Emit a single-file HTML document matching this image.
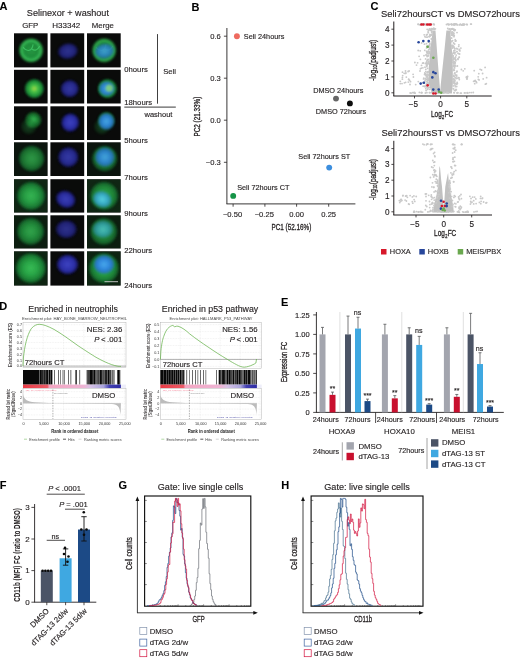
<!DOCTYPE html>
<html lang="en">
<head>
<meta charset="utf-8">
<title>Figure: Selinexor washout and dTAG-13 degradation</title>
<style>
html,body{margin:0;padding:0;background:#fff;}
body{width:520px;height:658px;overflow:hidden;}
svg{display:block;font-family:'Liberation Sans', sans-serif;}
svg text{font-family:'Liberation Sans', sans-serif;}
</style>
</head>
<body>
<svg width="520" height="658" viewBox="0 0 520 658">
<defs>
<filter id="b0" x="-10%" y="-10%" width="120%" height="120%"><feGaussianBlur stdDeviation="0.45"/></filter>
<filter id="b1" x="-30%" y="-30%" width="160%" height="160%"><feGaussianBlur stdDeviation="1.3"/></filter>
<radialGradient id="gRing"><stop offset="0" stop-color="#27a547"/><stop offset="0.55" stop-color="#239a40"/><stop offset="0.74" stop-color="#3fd463"/><stop offset="0.86" stop-color="#1d7a33"/><stop offset="1" stop-color="#0b1f0e" stop-opacity="0"/></radialGradient>
<radialGradient id="gHot"><stop offset="0" stop-color="#b9e34a"/><stop offset="0.3" stop-color="#4fd04c"/><stop offset="0.7" stop-color="#1f9a3c"/><stop offset="0.9" stop-color="#14602a"/><stop offset="1" stop-color="#0b1f0e" stop-opacity="0"/></radialGradient>
<radialGradient id="gDim"><stop offset="0" stop-color="#3fd060"/><stop offset="0.5" stop-color="#1e8a38"/><stop offset="0.85" stop-color="#12501f"/><stop offset="1" stop-color="#0b1f0e" stop-opacity="0"/></radialGradient>
<radialGradient id="gFlat"><stop offset="0" stop-color="#3ac55b"/><stop offset="0.4" stop-color="#2cae4b"/><stop offset="0.7" stop-color="#1f8c3a"/><stop offset="0.88" stop-color="#15622b"/><stop offset="1" stop-color="#0b1f0e" stop-opacity="0"/></radialGradient>
<radialGradient id="nBlue"><stop offset="0" stop-color="#474de2"/><stop offset="0.6" stop-color="#3135c2"/><stop offset="0.85" stop-color="#1a1a70"/><stop offset="1" stop-color="#0b0b20" stop-opacity="0"/></radialGradient>
<radialGradient id="nCyan"><stop offset="0" stop-color="#48a8ea"/><stop offset="0.5" stop-color="#2f86dc"/><stop offset="0.8" stop-color="#2470c2" stop-opacity="0.85"/><stop offset="1" stop-color="#1f8f6b" stop-opacity="0"/></radialGradient>
<radialGradient id="nTeal"><stop offset="0" stop-color="#58cfe2"/><stop offset="0.5" stop-color="#3aaecb"/><stop offset="0.8" stop-color="#2b8fae" stop-opacity="0.85"/><stop offset="1" stop-color="#1f8f6b" stop-opacity="0"/></radialGradient>
<linearGradient id="cbar" x1="0" x2="1" y1="0" y2="0"><stop offset="0" stop-color="#e8323c"/><stop offset="0.22" stop-color="#ee5f6a"/><stop offset="0.27" stop-color="#f2a3bd"/><stop offset="0.6" stop-color="#efb6d3"/><stop offset="0.78" stop-color="#d9c4e6"/><stop offset="0.87" stop-color="#9d9ad8"/><stop offset="0.9" stop-color="#3e3bb0"/><stop offset="1" stop-color="#2a2aa6"/></linearGradient>
<clipPath id="clip0_0"><rect x="14.0" y="33.3" width="33.6" height="34.1"/></clipPath><clipPath id="clip0_1"><rect x="50.4" y="33.3" width="33.8" height="34.1"/></clipPath><clipPath id="clip0_2"><rect x="87.0" y="33.3" width="33.7" height="34.1"/></clipPath><clipPath id="clip1_0"><rect x="14.0" y="69.8" width="33.6" height="33.7"/></clipPath><clipPath id="clip1_1"><rect x="50.4" y="69.8" width="33.8" height="33.7"/></clipPath><clipPath id="clip1_2"><rect x="87.0" y="69.8" width="33.7" height="33.7"/></clipPath><clipPath id="clip2_0"><rect x="14.0" y="106.3" width="33.6" height="33.7"/></clipPath><clipPath id="clip2_1"><rect x="50.4" y="106.3" width="33.8" height="33.7"/></clipPath><clipPath id="clip2_2"><rect x="87.0" y="106.3" width="33.7" height="33.7"/></clipPath><clipPath id="clip3_0"><rect x="14.0" y="142.3" width="33.6" height="33.7"/></clipPath><clipPath id="clip3_1"><rect x="50.4" y="142.3" width="33.8" height="33.7"/></clipPath><clipPath id="clip3_2"><rect x="87.0" y="142.3" width="33.7" height="33.7"/></clipPath><clipPath id="clip4_0"><rect x="14.0" y="179.2" width="33.6" height="33.4"/></clipPath><clipPath id="clip4_1"><rect x="50.4" y="179.2" width="33.8" height="33.4"/></clipPath><clipPath id="clip4_2"><rect x="87.0" y="179.2" width="33.7" height="33.4"/></clipPath><clipPath id="clip5_0"><rect x="14.0" y="215.3" width="33.6" height="33.2"/></clipPath><clipPath id="clip5_1"><rect x="50.4" y="215.3" width="33.8" height="33.2"/></clipPath><clipPath id="clip5_2"><rect x="87.0" y="215.3" width="33.7" height="33.2"/></clipPath><clipPath id="clip6_0"><rect x="14.0" y="251.3" width="33.6" height="34.3"/></clipPath><clipPath id="clip6_1"><rect x="50.4" y="251.3" width="33.8" height="34.3"/></clipPath><clipPath id="clip6_2"><rect x="87.0" y="251.3" width="33.7" height="34.3"/></clipPath><linearGradient id="cbar1" x1="0" x2="1" y1="0" y2="0"><stop offset="0" stop-color="#e93a45"/><stop offset="0.249" stop-color="#ec5a66"/><stop offset="0.269" stop-color="#f4a6c2"/><stop offset="0.621" stop-color="#eeb4d4"/><stop offset="0.691" stop-color="#d6c2e6"/><stop offset="0.822" stop-color="#a9a4dc"/><stop offset="0.882" stop-color="#4340b2"/><stop offset="1" stop-color="#2d2ba4"/></linearGradient><linearGradient id="cbar2" x1="0" x2="1" y1="0" y2="0"><stop offset="0" stop-color="#e93a45"/><stop offset="0.239" stop-color="#ec5a66"/><stop offset="0.259" stop-color="#f4a6c2"/><stop offset="0.626" stop-color="#eeb4d4"/><stop offset="0.696" stop-color="#d6c2e6"/><stop offset="0.831" stop-color="#a9a4dc"/><stop offset="0.891" stop-color="#4340b2"/><stop offset="1" stop-color="#2d2ba4"/></linearGradient><clipPath id="clipboxG"><rect x="144.6" y="496.0" width="106.20" height="110.50"/></clipPath><clipPath id="clipboxH"><rect x="311.1" y="496.0" width="111.90" height="110.50"/></clipPath></defs>
<rect width="520" height="658" fill="#ffffff"/>
<g id="panelA">
<text x="-0.40" y="9.84" font-size="11" fill="#000" stroke="#000" stroke-width="0.084" font-weight="bold">A</text>
<text x="67.90" y="15.76" font-size="9.1" fill="#231f20" stroke="#231f20" stroke-width="0.14" text-anchor="middle">Selinexor + washout</text>
<text x="30.20" y="28.19" font-size="7.8" fill="#231f20" stroke="#231f20" stroke-width="0.14" text-anchor="middle">GFP</text>
<text x="66.30" y="28.26" font-size="8.0" fill="#231f20" stroke="#231f20" stroke-width="0.14" text-anchor="middle">H33342</text>
<text x="102.90" y="28.19" font-size="7.8" fill="#231f20" stroke="#231f20" stroke-width="0.14" text-anchor="middle">Merge</text>
<rect x="14.00" y="33.30" width="33.60" height="34.10" fill="#0a0b0a" />
<g clip-path="url(#clip0_0)">
<circle cx="31.10" cy="50.35" r="13.2" fill="url(#gRing)" opacity="0.9" filter="url(#b1)"/>
<path d="M23.1,47.3 C27.1,52.3 32.1,51.3 33.1,44.3 M32.1,49.3 C35.1,51.3 38.1,49.3 39.6,46.3" fill="none" stroke="#4fe07a" stroke-width="1.1" opacity="0.55" filter="url(#b0)"/>
</g>
<rect x="50.40" y="33.30" width="33.80" height="34.10" fill="#0a0b0a" />
<g clip-path="url(#clip0_1)">
<ellipse cx="67.90" cy="51.15" rx="11" ry="8.6" fill="url(#nBlue)" opacity="0.62" filter="url(#b1)" transform="rotate(-10 67.90 51.15)"/>
</g>
<rect x="87.00" y="33.30" width="33.70" height="34.10" fill="#0a0b0a" />
<g clip-path="url(#clip0_2)">
<circle cx="104.15" cy="50.35" r="13.2" fill="url(#gRing)" opacity="0.8280000000000001" filter="url(#b1)"/>
<path d="M96.1,47.3 C100.1,52.3 105.1,51.3 106.1,44.3 M105.1,49.3 C108.1,51.3 111.1,49.3 112.6,46.3" fill="none" stroke="#4fe07a" stroke-width="1.1" opacity="0.3" filter="url(#b0)"/>
<ellipse cx="104.45" cy="51.15" rx="10.6" ry="8.2" fill="url(#nCyan)" opacity="0.80" filter="url(#b1)" transform="rotate(-10 104.45 51.15)"/>
</g>
<rect x="14.00" y="69.80" width="33.60" height="33.70" fill="#0a0b0a" />
<g clip-path="url(#clip1_0)">
<circle cx="34.30" cy="88.65" r="10.2" fill="url(#gHot)" opacity="0.95" filter="url(#b1)"/>
</g>
<rect x="50.40" y="69.80" width="33.80" height="33.70" fill="#0a0b0a" />
<g clip-path="url(#clip1_1)">
<ellipse cx="69.70" cy="88.65" rx="10" ry="9.6" fill="url(#nBlue)" opacity="0.7" filter="url(#b1)" transform="rotate(0 69.70 88.65)"/>
</g>
<rect x="87.00" y="69.80" width="33.70" height="33.70" fill="#0a0b0a" />
<g clip-path="url(#clip1_2)">
<circle cx="107.35" cy="88.65" r="10.2" fill="url(#gHot)" opacity="0.874" filter="url(#b1)"/>
<ellipse cx="106.75" cy="88.65" rx="8.5" ry="8.1" fill="url(#nCyan)" opacity="0.95" filter="url(#b1)"/>
<circle cx="109.35" cy="88.15" r="3.6" fill="#8fdc6a" opacity="0.75" filter="url(#b1)"/>
</g>
<rect x="14.00" y="106.30" width="33.60" height="33.70" fill="#0a0b0a" />
<g clip-path="url(#clip2_0)">
<circle cx="33.30" cy="119.95" r="8.9" fill="url(#gDim)" opacity="0.92" filter="url(#b1)"/>
<circle cx="28.80" cy="126.45" r="8.5" fill="url(#gDim)" opacity="0.3" filter="url(#b1)"/>
</g>
<rect x="50.40" y="106.30" width="33.80" height="33.70" fill="#0a0b0a" />
<g clip-path="url(#clip2_1)">
<ellipse cx="70.20" cy="122.55" rx="9.8" ry="10.2" fill="url(#nBlue)" opacity="0.85" filter="url(#b1)" transform="rotate(20 70.20 122.55)"/>
</g>
<rect x="87.00" y="106.30" width="33.70" height="33.70" fill="#0a0b0a" />
<g clip-path="url(#clip2_2)">
<circle cx="106.35" cy="119.95" r="8.9" fill="url(#gDim)" opacity="0.8464" filter="url(#b1)"/>
<circle cx="101.85" cy="126.45" r="8.5" fill="url(#gDim)" opacity="0.3" filter="url(#b1)"/>
<ellipse cx="106.35" cy="121.45" rx="8.8" ry="9.2" fill="url(#nCyan)" opacity="0.95" filter="url(#b1)"/>
</g>
<rect x="14.00" y="142.30" width="33.60" height="33.70" fill="#0a0b0a" />
<g clip-path="url(#clip3_0)">
<rect x="14.00" y="142.30" width="33.60" height="33.70" fill="#15421d" opacity="0.2"/>
<circle cx="31.60" cy="158.55" r="13.7" fill="url(#gFlat)" opacity="0.74" filter="url(#b1)"/>
</g>
<rect x="50.40" y="142.30" width="33.80" height="33.70" fill="#0a0b0a" />
<g clip-path="url(#clip3_1)">
<ellipse cx="68.30" cy="157.15" rx="11.2" ry="11" fill="url(#nBlue)" opacity="0.72" filter="url(#b1)" transform="rotate(0 68.30 157.15)"/>
</g>
<rect x="87.00" y="142.30" width="33.70" height="33.70" fill="#0a0b0a" />
<g clip-path="url(#clip3_2)">
<rect x="87.00" y="142.30" width="33.70" height="33.70" fill="#15421d" opacity="0.2"/>
<circle cx="104.65" cy="158.55" r="13.7" fill="url(#gFlat)" opacity="0.6808000000000001" filter="url(#b1)"/>
<ellipse cx="104.85" cy="157.15" rx="10.799999999999999" ry="10.6" fill="url(#nCyan)" opacity="0.90" filter="url(#b1)" transform="rotate(0 104.85 157.15)"/>
</g>
<rect x="14.00" y="179.20" width="33.60" height="33.40" fill="#0a0b0a" />
<g clip-path="url(#clip4_0)">
<rect x="14.00" y="179.20" width="33.60" height="33.40" fill="#15421d" opacity="0.5"/>
<circle cx="31.00" cy="195.90" r="15.2" fill="url(#gFlat)" opacity="0.9" filter="url(#b1)"/>
</g>
<rect x="50.40" y="179.20" width="33.80" height="33.40" fill="#0a0b0a" />
<g clip-path="url(#clip4_1)">
<ellipse cx="65.70" cy="199.30" rx="11" ry="9.3" fill="url(#nBlue)" opacity="0.8" filter="url(#b1)" transform="rotate(25 65.70 199.30)"/>
</g>
<rect x="87.00" y="179.20" width="33.70" height="33.40" fill="#0a0b0a" />
<g clip-path="url(#clip4_2)">
<rect x="87.00" y="179.20" width="33.70" height="33.40" fill="#15421d" opacity="0.5"/>
<circle cx="104.05" cy="195.90" r="15.2" fill="url(#gFlat)" opacity="0.8280000000000001" filter="url(#b1)"/>
<ellipse cx="102.25" cy="199.30" rx="10.6" ry="8.9" fill="url(#nTeal)" opacity="0.98" filter="url(#b1)" transform="rotate(25 102.25 199.30)"/>
</g>
<rect x="14.00" y="215.30" width="33.60" height="33.20" fill="#0a0b0a" />
<g clip-path="url(#clip5_0)">
<rect x="14.00" y="215.30" width="33.60" height="33.20" fill="#15421d" opacity="0.35"/>
<circle cx="30.60" cy="231.40" r="14.6" fill="url(#gFlat)" opacity="0.8" filter="url(#b1)"/>
</g>
<rect x="50.40" y="215.30" width="33.80" height="33.20" fill="#0a0b0a" />
<g clip-path="url(#clip5_1)">
<ellipse cx="66.30" cy="229.20" rx="11.6" ry="10" fill="url(#nBlue)" opacity="0.6" filter="url(#b1)" transform="rotate(0 66.30 229.20)"/>
</g>
<rect x="87.00" y="215.30" width="33.70" height="33.20" fill="#0a0b0a" />
<g clip-path="url(#clip5_2)">
<rect x="87.00" y="215.30" width="33.70" height="33.20" fill="#15421d" opacity="0.35"/>
<circle cx="103.65" cy="231.40" r="14.6" fill="url(#gFlat)" opacity="0.7360000000000001" filter="url(#b1)"/>
<ellipse cx="102.85" cy="229.20" rx="11.2" ry="9.6" fill="url(#nTeal)" opacity="0.70" filter="url(#b1)" transform="rotate(0 102.85 229.20)"/>
</g>
<rect x="14.00" y="251.30" width="33.60" height="34.30" fill="#0a0b0a" />
<g clip-path="url(#clip6_0)">
<rect x="14.00" y="251.30" width="33.60" height="34.30" fill="#15421d" opacity="0.45"/>
<circle cx="30.80" cy="268.15" r="16.2" fill="url(#gFlat)" opacity="0.95" filter="url(#b1)"/>
</g>
<rect x="50.40" y="251.30" width="33.80" height="34.30" fill="#0a0b0a" />
<g clip-path="url(#clip6_1)">
<ellipse cx="67.50" cy="264.45" rx="11.8" ry="10.8" fill="url(#nBlue)" opacity="0.85" filter="url(#b1)" transform="rotate(0 67.50 264.45)"/>
</g>
<rect x="87.00" y="251.30" width="33.70" height="34.30" fill="#0a0b0a" />
<g clip-path="url(#clip6_2)">
<rect x="87.00" y="251.30" width="33.70" height="34.30" fill="#15421d" opacity="0.45"/>
<circle cx="103.85" cy="268.15" r="16.2" fill="url(#gFlat)" opacity="0.874" filter="url(#b1)"/>
<ellipse cx="104.05" cy="264.45" rx="11.4" ry="10.4" fill="url(#nCyan)" opacity="1.00" filter="url(#b1)" transform="rotate(0 104.05 264.45)"/>
</g>
<line x1="104.50" y1="281.70" x2="118.00" y2="281.70" stroke="#cfcfcf" stroke-width="0.9" />
<text x="124.30" y="71.76" font-size="7.7" fill="#231f20" stroke="#231f20" stroke-width="0.14">0hours</text>
<text x="124.30" y="105.06" font-size="7.7" fill="#231f20" stroke="#231f20" stroke-width="0.14">18hours</text>
<text x="124.30" y="143.46" font-size="7.7" fill="#231f20" stroke="#231f20" stroke-width="0.14">5hours</text>
<text x="124.30" y="180.26" font-size="7.7" fill="#231f20" stroke="#231f20" stroke-width="0.14">7hours</text>
<text x="124.30" y="216.36" font-size="7.7" fill="#231f20" stroke="#231f20" stroke-width="0.14">9hours</text>
<text x="124.30" y="252.76" font-size="7.7" fill="#231f20" stroke="#231f20" stroke-width="0.14">22hours</text>
<text x="124.30" y="287.76" font-size="7.7" fill="#231f20" stroke="#231f20" stroke-width="0.14">24hours</text>
<line x1="157.50" y1="34.10" x2="157.50" y2="103.70" stroke="#2a2a2a" stroke-width="0.9" />
<line x1="124.30" y1="107.10" x2="175.80" y2="107.10" stroke="#3a3a3a" stroke-width="1.0" />
<text x="163.30" y="73.62" font-size="7.6" fill="#231f20" stroke="#231f20" stroke-width="0.14">Seli</text>
<text x="144.50" y="117.09" font-size="7.5" fill="#231f20" stroke="#231f20" stroke-width="0.14">washout</text>
</g>
<g id="panelB">
<text x="191.50" y="10.74" font-size="11" fill="#000" stroke="#000" stroke-width="0.084" font-weight="bold">B</text>
<line x1="226.90" y1="28.00" x2="226.90" y2="203.90" stroke="#231f20" stroke-width="0.9" />
<line x1="226.45" y1="203.90" x2="355.40" y2="203.90" stroke="#231f20" stroke-width="0.9" />
<line x1="223.90" y1="36.20" x2="226.90" y2="36.20" stroke="#231f20" stroke-width="0.8" />
<text x="220.80" y="38.92" font-size="7.6" fill="#231f20" stroke="#231f20" stroke-width="0.14" text-anchor="end">0.6</text>
<line x1="223.90" y1="78.20" x2="226.90" y2="78.20" stroke="#231f20" stroke-width="0.8" />
<text x="220.80" y="80.92" font-size="7.6" fill="#231f20" stroke="#231f20" stroke-width="0.14" text-anchor="end">0.3</text>
<line x1="223.90" y1="120.20" x2="226.90" y2="120.20" stroke="#231f20" stroke-width="0.8" />
<text x="220.80" y="122.92" font-size="7.6" fill="#231f20" stroke="#231f20" stroke-width="0.14" text-anchor="end">0.0</text>
<line x1="223.90" y1="162.30" x2="226.90" y2="162.30" stroke="#231f20" stroke-width="0.8" />
<text x="220.80" y="165.02" font-size="7.6" fill="#231f20" stroke="#231f20" stroke-width="0.14" text-anchor="end">−0.3</text>
<line x1="233.10" y1="203.90" x2="233.10" y2="206.70" stroke="#231f20" stroke-width="0.8" />
<text x="232.50" y="217.02" font-size="7.6" fill="#231f20" stroke="#231f20" stroke-width="0.14" text-anchor="middle">−0.50</text>
<line x1="264.90" y1="203.90" x2="264.90" y2="206.70" stroke="#231f20" stroke-width="0.8" />
<text x="264.30" y="217.02" font-size="7.6" fill="#231f20" stroke="#231f20" stroke-width="0.14" text-anchor="middle">−0.25</text>
<line x1="296.60" y1="203.90" x2="296.60" y2="206.70" stroke="#231f20" stroke-width="0.8" />
<text x="296.60" y="217.02" font-size="7.6" fill="#231f20" stroke="#231f20" stroke-width="0.14" text-anchor="middle">0.00</text>
<line x1="328.70" y1="203.90" x2="328.70" y2="206.70" stroke="#231f20" stroke-width="0.8" />
<text x="328.70" y="217.02" font-size="7.6" fill="#231f20" stroke="#231f20" stroke-width="0.14" text-anchor="middle">0.25</text>
<text transform="translate(291.40 229.68) scale(0.74 1)" font-size="8.6" fill="#231f20" stroke="#231f20" stroke-width="0.3" text-anchor="middle">PC1 (52.16%)</text>
<text transform="translate(199.88 116.60) rotate(-90) scale(0.74 1)" font-size="8.6" fill="#231f20" stroke="#231f20" stroke-width="0.3" text-anchor="middle">PC2 (21.33%)</text>
<circle cx="236.90" cy="36.20" r="2.95" fill="#ee6a5f" />
<circle cx="336.00" cy="98.60" r="2.95" fill="#666666" />
<circle cx="349.90" cy="103.40" r="2.95" fill="#0d0d0d" />
<circle cx="329.20" cy="167.60" r="2.95" fill="#3c8ede" />
<circle cx="233.20" cy="195.90" r="2.95" fill="#159447" />
<text x="243.80" y="38.81" font-size="7.3" fill="#231f20" stroke="#231f20" stroke-width="0.14">Seli 24hours</text>
<text x="338.30" y="93.31" font-size="7.3" fill="#231f20" stroke="#231f20" stroke-width="0.14" text-anchor="middle">DMSO 24hours</text>
<text x="341.00" y="114.01" font-size="7.3" fill="#231f20" stroke="#231f20" stroke-width="0.14" text-anchor="middle">DMSO 72hours</text>
<text x="324.30" y="159.01" font-size="7.3" fill="#231f20" stroke="#231f20" stroke-width="0.14" text-anchor="middle">Seli 72hours ST</text>
<text x="237.20" y="190.01" font-size="7.3" fill="#231f20" stroke="#231f20" stroke-width="0.14">Seli 72hours CT</text>
</g>
<g id="panelC">
<text x="370.60" y="9.94" font-size="11" fill="#000" stroke="#000" stroke-width="0.084" font-weight="bold">C</text>
<text x="519.90" y="16.67" font-size="9.42" fill="#231f20" stroke="#231f20" stroke-width="0.14" text-anchor="end">Seli72hoursCT vs DMSO72hours</text>
<line x1="393.80" y1="21.50" x2="393.80" y2="96.00" stroke="#231f20" stroke-width="1.0" />
<line x1="393.30" y1="96.00" x2="491.70" y2="96.00" stroke="#231f20" stroke-width="1.0" />
<line x1="391.40" y1="92.80" x2="393.80" y2="92.80" stroke="#231f20" stroke-width="0.8" />
<text x="389.60" y="95.74" font-size="8.2" fill="#231f20" stroke="#231f20" stroke-width="0.14" text-anchor="end">0</text>
<line x1="391.40" y1="76.90" x2="393.80" y2="76.90" stroke="#231f20" stroke-width="0.8" />
<text x="389.60" y="79.84" font-size="8.2" fill="#231f20" stroke="#231f20" stroke-width="0.14" text-anchor="end">1</text>
<line x1="391.40" y1="61.00" x2="393.80" y2="61.00" stroke="#231f20" stroke-width="0.8" />
<text x="389.60" y="63.94" font-size="8.2" fill="#231f20" stroke="#231f20" stroke-width="0.14" text-anchor="end">2</text>
<line x1="391.40" y1="45.10" x2="393.80" y2="45.10" stroke="#231f20" stroke-width="0.8" />
<text x="389.60" y="48.04" font-size="8.2" fill="#231f20" stroke="#231f20" stroke-width="0.14" text-anchor="end">3</text>
<line x1="391.40" y1="29.20" x2="393.80" y2="29.20" stroke="#231f20" stroke-width="0.8" />
<text x="389.60" y="32.14" font-size="8.2" fill="#231f20" stroke="#231f20" stroke-width="0.14" text-anchor="end">4</text>
<line x1="414.50" y1="96.00" x2="414.50" y2="98.40" stroke="#231f20" stroke-width="0.8" />
<text x="413.50" y="107.44" font-size="8.2" fill="#231f20" stroke="#231f20" stroke-width="0.14" text-anchor="middle">−5</text>
<line x1="440.60" y1="96.00" x2="440.60" y2="98.40" stroke="#231f20" stroke-width="0.8" />
<text x="440.60" y="107.44" font-size="8.2" fill="#231f20" stroke="#231f20" stroke-width="0.14" text-anchor="middle">0</text>
<line x1="466.80" y1="96.00" x2="466.80" y2="98.40" stroke="#231f20" stroke-width="0.8" />
<text x="466.80" y="107.44" font-size="8.2" fill="#231f20" stroke="#231f20" stroke-width="0.14" text-anchor="middle">5</text>
<text transform="translate(442.10 117.22) scale(0.72 1)" font-size="9" fill="#231f20" stroke="#231f20" stroke-width="0.3" text-anchor="middle">Log<tspan font-size="5.5" dy="1.8" dx="0.4">2</tspan><tspan dy="-1.8" dx="0.4">FC</tspan></text>
<text transform="translate(375.62 60.30) rotate(-90) scale(0.72 1)" font-size="9" fill="#231f20" stroke="#231f20" stroke-width="0.3" text-anchor="middle">-log<tspan font-size="5.5" dy="1.8" dx="0.4">10</tspan><tspan dy="-1.8" dx="0.3">(padjust)</tspan></text>
<polygon points="432.0,93.6 428.8,84.2 428.5,75.3 428.8,66.9 430.3,49.6 432.8,30.6 435.5,30.6 436.9,49.6 438.2,66.9 439.6,84.2 440.2,91.2 440.8,84.2 442.6,66.9 444.5,49.6 446.4,30.6 450.2,30.6 451.9,49.6 452.8,66.9 452.8,84.2 451.9,93.6" fill="#c1c1c1" filter="url(#b0)"/>
<g fill="#c9c9c9">
<circle cx="422.6" cy="63.2" r="0.92"/>
<circle cx="426.4" cy="62.3" r="0.92"/>
<circle cx="427.6" cy="59.7" r="0.92"/>
<circle cx="428.2" cy="59.5" r="0.92"/>
<circle cx="429.7" cy="52.2" r="0.92"/>
<circle cx="427.1" cy="72.4" r="0.92"/>
<circle cx="427.2" cy="85.6" r="0.92"/>
<circle cx="425.8" cy="88.6" r="0.92"/>
<circle cx="428.5" cy="30.3" r="0.92"/>
<circle cx="429.0" cy="53.0" r="0.92"/>
<circle cx="424.8" cy="81.4" r="0.92"/>
<circle cx="429.2" cy="87.5" r="0.92"/>
<circle cx="428.2" cy="79.4" r="0.92"/>
<circle cx="428.1" cy="62.4" r="0.92"/>
<circle cx="426.7" cy="63.9" r="0.92"/>
<circle cx="427.2" cy="51.5" r="0.92"/>
<circle cx="427.4" cy="60.2" r="0.92"/>
<circle cx="425.6" cy="74.0" r="0.92"/>
<circle cx="427.2" cy="29.3" r="0.92"/>
<circle cx="430.5" cy="47.3" r="0.92"/>
<circle cx="428.0" cy="71.7" r="0.92"/>
<circle cx="426.9" cy="86.9" r="0.92"/>
<circle cx="426.5" cy="43.7" r="0.92"/>
<circle cx="425.0" cy="67.2" r="0.92"/>
<circle cx="432.4" cy="31.8" r="0.92"/>
<circle cx="428.2" cy="78.2" r="0.92"/>
<circle cx="424.2" cy="34.8" r="0.92"/>
<circle cx="426.8" cy="66.6" r="0.92"/>
<circle cx="425.7" cy="86.7" r="0.92"/>
<circle cx="424.6" cy="74.5" r="0.92"/>
<circle cx="425.2" cy="85.8" r="0.92"/>
<circle cx="424.5" cy="44.2" r="0.92"/>
<circle cx="428.3" cy="83.9" r="0.92"/>
<circle cx="428.1" cy="87.5" r="0.92"/>
<circle cx="429.6" cy="41.8" r="0.92"/>
<circle cx="425.4" cy="63.5" r="0.92"/>
<circle cx="428.1" cy="79.4" r="0.92"/>
<circle cx="428.6" cy="51.3" r="0.92"/>
<circle cx="426.5" cy="84.0" r="0.92"/>
<circle cx="427.3" cy="74.5" r="0.92"/>
<circle cx="431.7" cy="31.0" r="0.92"/>
<circle cx="429.6" cy="36.3" r="0.92"/>
<circle cx="423.8" cy="78.1" r="0.92"/>
<circle cx="426.6" cy="51.4" r="0.92"/>
<circle cx="426.6" cy="85.0" r="0.92"/>
<circle cx="428.2" cy="75.2" r="0.92"/>
<circle cx="429.9" cy="43.3" r="0.92"/>
<circle cx="427.0" cy="86.7" r="0.92"/>
<circle cx="426.9" cy="85.6" r="0.92"/>
<circle cx="428.8" cy="53.9" r="0.92"/>
<circle cx="421.3" cy="68.2" r="0.92"/>
<circle cx="426.8" cy="61.2" r="0.92"/>
<circle cx="428.4" cy="55.6" r="0.92"/>
<circle cx="426.9" cy="81.7" r="0.92"/>
<circle cx="431.2" cy="34.9" r="0.92"/>
<circle cx="426.3" cy="79.4" r="0.92"/>
<circle cx="429.1" cy="45.4" r="0.92"/>
<circle cx="431.7" cy="32.3" r="0.92"/>
<circle cx="429.5" cy="36.5" r="0.92"/>
<circle cx="426.7" cy="84.8" r="0.92"/>
<circle cx="427.9" cy="88.8" r="0.92"/>
<circle cx="430.1" cy="47.5" r="0.92"/>
<circle cx="426.6" cy="75.3" r="0.92"/>
<circle cx="424.8" cy="73.0" r="0.92"/>
<circle cx="428.1" cy="80.3" r="0.92"/>
<circle cx="427.2" cy="77.0" r="0.92"/>
<circle cx="427.1" cy="56.5" r="0.92"/>
<circle cx="425.1" cy="73.8" r="0.92"/>
<circle cx="432.0" cy="34.3" r="0.92"/>
<circle cx="427.8" cy="74.5" r="0.92"/>
<circle cx="427.0" cy="63.6" r="0.92"/>
<circle cx="427.6" cy="68.3" r="0.92"/>
<circle cx="427.8" cy="55.7" r="0.92"/>
<circle cx="429.9" cy="36.0" r="0.92"/>
<circle cx="430.2" cy="30.4" r="0.92"/>
<circle cx="426.0" cy="55.0" r="0.92"/>
<circle cx="427.8" cy="82.5" r="0.92"/>
<circle cx="432.0" cy="34.8" r="0.92"/>
<circle cx="430.0" cy="47.7" r="0.92"/>
<circle cx="429.9" cy="51.8" r="0.92"/>
<circle cx="428.6" cy="61.3" r="0.92"/>
<circle cx="430.2" cy="29.2" r="0.92"/>
<circle cx="424.6" cy="86.5" r="0.92"/>
<circle cx="430.7" cy="35.4" r="0.92"/>
<circle cx="429.4" cy="45.5" r="0.92"/>
<circle cx="427.2" cy="34.5" r="0.92"/>
<circle cx="425.8" cy="69.4" r="0.92"/>
<circle cx="426.1" cy="37.2" r="0.92"/>
<circle cx="427.0" cy="65.3" r="0.92"/>
<circle cx="424.0" cy="55.7" r="0.92"/>
<circle cx="427.2" cy="52.5" r="0.92"/>
<circle cx="427.3" cy="53.5" r="0.92"/>
<circle cx="423.2" cy="86.2" r="0.92"/>
<circle cx="424.9" cy="36.7" r="0.92"/>
<circle cx="427.2" cy="46.1" r="0.92"/>
<circle cx="426.6" cy="55.2" r="0.92"/>
<circle cx="428.0" cy="63.9" r="0.92"/>
<circle cx="429.9" cy="44.7" r="0.92"/>
<circle cx="427.5" cy="89.4" r="0.92"/>
<circle cx="426.3" cy="76.9" r="0.92"/>
<circle cx="426.6" cy="47.9" r="0.92"/>
<circle cx="432.1" cy="34.1" r="0.92"/>
<circle cx="425.9" cy="75.3" r="0.92"/>
<circle cx="430.2" cy="49.2" r="0.92"/>
<circle cx="425.3" cy="78.6" r="0.92"/>
<circle cx="424.8" cy="50.3" r="0.92"/>
<circle cx="426.7" cy="63.8" r="0.92"/>
<circle cx="428.7" cy="49.9" r="0.92"/>
<circle cx="423.6" cy="78.9" r="0.92"/>
<circle cx="429.9" cy="34.5" r="0.92"/>
<circle cx="429.0" cy="36.6" r="0.92"/>
<circle cx="425.8" cy="71.6" r="0.92"/>
<circle cx="422.8" cy="82.8" r="0.92"/>
<circle cx="431.5" cy="38.6" r="0.92"/>
<circle cx="428.4" cy="47.1" r="0.92"/>
<circle cx="427.6" cy="80.7" r="0.92"/>
<circle cx="428.4" cy="63.3" r="0.92"/>
<circle cx="426.5" cy="65.5" r="0.92"/>
<circle cx="427.5" cy="52.4" r="0.92"/>
<circle cx="431.5" cy="39.2" r="0.92"/>
<circle cx="431.5" cy="30.3" r="0.92"/>
<circle cx="429.8" cy="89.3" r="0.92"/>
<circle cx="427.4" cy="37.1" r="0.92"/>
<circle cx="428.4" cy="55.8" r="0.92"/>
<circle cx="428.1" cy="72.0" r="0.92"/>
<circle cx="427.7" cy="82.8" r="0.92"/>
<circle cx="423.4" cy="63.0" r="0.92"/>
<circle cx="427.4" cy="76.5" r="0.92"/>
<circle cx="424.4" cy="82.5" r="0.92"/>
<circle cx="427.5" cy="63.5" r="0.92"/>
<circle cx="427.1" cy="52.1" r="0.92"/>
<circle cx="428.1" cy="31.8" r="0.92"/>
<circle cx="429.4" cy="48.8" r="0.92"/>
<circle cx="425.2" cy="80.1" r="0.92"/>
<circle cx="426.1" cy="90.5" r="0.92"/>
<circle cx="427.5" cy="80.1" r="0.92"/>
<circle cx="425.8" cy="74.3" r="0.92"/>
<circle cx="425.6" cy="58.9" r="0.92"/>
<circle cx="429.8" cy="53.1" r="0.92"/>
<circle cx="428.3" cy="42.1" r="0.92"/>
<circle cx="426.4" cy="35.0" r="0.92"/>
<circle cx="427.2" cy="46.4" r="0.92"/>
<circle cx="424.4" cy="83.2" r="0.92"/>
<circle cx="430.9" cy="34.8" r="0.92"/>
<circle cx="422.9" cy="67.8" r="0.92"/>
<circle cx="428.8" cy="41.8" r="0.92"/>
<circle cx="428.3" cy="32.7" r="0.92"/>
<circle cx="427.3" cy="78.5" r="0.92"/>
<circle cx="429.0" cy="46.4" r="0.92"/>
<circle cx="426.9" cy="46.7" r="0.92"/>
<circle cx="459.0" cy="78.0" r="0.92"/>
<circle cx="454.8" cy="30.6" r="0.92"/>
<circle cx="453.0" cy="57.9" r="0.92"/>
<circle cx="453.0" cy="34.8" r="0.92"/>
<circle cx="451.6" cy="38.1" r="0.92"/>
<circle cx="453.7" cy="63.9" r="0.92"/>
<circle cx="452.7" cy="57.1" r="0.92"/>
<circle cx="456.0" cy="89.4" r="0.92"/>
<circle cx="455.5" cy="41.0" r="0.92"/>
<circle cx="454.9" cy="80.5" r="0.92"/>
<circle cx="453.4" cy="70.4" r="0.92"/>
<circle cx="454.4" cy="82.0" r="0.92"/>
<circle cx="453.3" cy="59.2" r="0.92"/>
<circle cx="456.7" cy="48.5" r="0.92"/>
<circle cx="457.0" cy="32.6" r="0.92"/>
<circle cx="453.3" cy="85.9" r="0.92"/>
<circle cx="455.2" cy="77.5" r="0.92"/>
<circle cx="451.9" cy="46.0" r="0.92"/>
<circle cx="456.9" cy="51.6" r="0.92"/>
<circle cx="453.0" cy="56.5" r="0.92"/>
<circle cx="456.7" cy="71.9" r="0.92"/>
<circle cx="454.2" cy="35.4" r="0.92"/>
<circle cx="457.1" cy="78.3" r="0.92"/>
<circle cx="458.0" cy="58.7" r="0.92"/>
<circle cx="453.2" cy="55.7" r="0.92"/>
<circle cx="455.6" cy="60.0" r="0.92"/>
<circle cx="458.9" cy="53.7" r="0.92"/>
<circle cx="453.7" cy="59.2" r="0.92"/>
<circle cx="454.0" cy="66.4" r="0.92"/>
<circle cx="455.8" cy="60.8" r="0.92"/>
<circle cx="454.7" cy="48.4" r="0.92"/>
<circle cx="454.2" cy="65.6" r="0.92"/>
<circle cx="452.4" cy="31.9" r="0.92"/>
<circle cx="453.6" cy="61.9" r="0.92"/>
<circle cx="457.4" cy="83.3" r="0.92"/>
<circle cx="452.7" cy="35.4" r="0.92"/>
<circle cx="453.3" cy="61.7" r="0.92"/>
<circle cx="453.6" cy="52.9" r="0.92"/>
<circle cx="453.8" cy="33.8" r="0.92"/>
<circle cx="456.3" cy="89.8" r="0.92"/>
<circle cx="453.6" cy="79.2" r="0.92"/>
<circle cx="457.0" cy="71.2" r="0.92"/>
<circle cx="453.9" cy="69.2" r="0.92"/>
<circle cx="452.4" cy="45.9" r="0.92"/>
<circle cx="455.0" cy="83.6" r="0.92"/>
<circle cx="453.1" cy="78.9" r="0.92"/>
<circle cx="454.8" cy="58.3" r="0.92"/>
<circle cx="453.9" cy="65.6" r="0.92"/>
<circle cx="453.4" cy="58.4" r="0.92"/>
<circle cx="453.5" cy="52.1" r="0.92"/>
<circle cx="457.0" cy="51.6" r="0.92"/>
<circle cx="453.0" cy="53.3" r="0.92"/>
<circle cx="451.4" cy="38.1" r="0.92"/>
<circle cx="455.5" cy="41.0" r="0.92"/>
<circle cx="451.7" cy="35.2" r="0.92"/>
<circle cx="452.8" cy="34.0" r="0.92"/>
<circle cx="458.5" cy="77.7" r="0.92"/>
<circle cx="453.1" cy="82.9" r="0.92"/>
<circle cx="453.3" cy="76.4" r="0.92"/>
<circle cx="455.0" cy="85.2" r="0.92"/>
<circle cx="455.2" cy="39.6" r="0.92"/>
<circle cx="455.2" cy="83.4" r="0.92"/>
<circle cx="453.2" cy="66.2" r="0.92"/>
<circle cx="453.5" cy="78.8" r="0.92"/>
<circle cx="457.6" cy="48.9" r="0.92"/>
<circle cx="456.7" cy="84.1" r="0.92"/>
<circle cx="452.7" cy="59.9" r="0.92"/>
<circle cx="454.8" cy="48.7" r="0.92"/>
<circle cx="454.1" cy="79.5" r="0.92"/>
<circle cx="453.6" cy="88.9" r="0.92"/>
<circle cx="455.7" cy="57.0" r="0.92"/>
<circle cx="453.3" cy="82.1" r="0.92"/>
<circle cx="454.5" cy="79.8" r="0.92"/>
<circle cx="455.2" cy="29.8" r="0.92"/>
<circle cx="451.4" cy="33.7" r="0.92"/>
<circle cx="451.1" cy="32.2" r="0.92"/>
<circle cx="452.9" cy="62.6" r="0.92"/>
<circle cx="455.0" cy="62.3" r="0.92"/>
<circle cx="455.7" cy="59.3" r="0.92"/>
<circle cx="454.5" cy="90.4" r="0.92"/>
<circle cx="452.6" cy="47.7" r="0.92"/>
<circle cx="454.1" cy="63.1" r="0.92"/>
<circle cx="452.9" cy="45.4" r="0.92"/>
<circle cx="454.0" cy="81.0" r="0.92"/>
<circle cx="458.0" cy="59.4" r="0.92"/>
<circle cx="451.8" cy="41.5" r="0.92"/>
<circle cx="454.0" cy="47.5" r="0.92"/>
<circle cx="455.8" cy="66.1" r="0.92"/>
<circle cx="459.6" cy="54.0" r="0.92"/>
<circle cx="451.4" cy="41.3" r="0.92"/>
<circle cx="456.7" cy="75.2" r="0.92"/>
<circle cx="453.6" cy="43.0" r="0.92"/>
<circle cx="455.8" cy="40.7" r="0.92"/>
<circle cx="454.0" cy="36.7" r="0.92"/>
<circle cx="452.2" cy="48.1" r="0.92"/>
<circle cx="457.4" cy="66.0" r="0.92"/>
<circle cx="453.7" cy="46.4" r="0.92"/>
<circle cx="453.7" cy="62.1" r="0.92"/>
<circle cx="455.3" cy="90.6" r="0.92"/>
<circle cx="454.9" cy="52.5" r="0.92"/>
<circle cx="456.7" cy="76.8" r="0.92"/>
<circle cx="454.3" cy="70.3" r="0.92"/>
<circle cx="454.8" cy="50.3" r="0.92"/>
<circle cx="454.4" cy="67.1" r="0.92"/>
<circle cx="452.9" cy="29.2" r="0.92"/>
<circle cx="454.6" cy="44.0" r="0.92"/>
<circle cx="454.0" cy="30.4" r="0.92"/>
<circle cx="452.0" cy="45.4" r="0.92"/>
<circle cx="453.7" cy="75.3" r="0.92"/>
<circle cx="453.5" cy="79.1" r="0.92"/>
<circle cx="454.6" cy="67.9" r="0.92"/>
<circle cx="451.9" cy="35.1" r="0.92"/>
<circle cx="459.2" cy="57.1" r="0.92"/>
<circle cx="452.6" cy="56.0" r="0.92"/>
<circle cx="453.5" cy="29.5" r="0.92"/>
<circle cx="456.7" cy="86.5" r="0.92"/>
<circle cx="452.2" cy="54.2" r="0.92"/>
<circle cx="451.5" cy="33.5" r="0.92"/>
<circle cx="454.6" cy="81.3" r="0.92"/>
<circle cx="452.8" cy="60.5" r="0.92"/>
<circle cx="458.0" cy="53.3" r="0.92"/>
<circle cx="455.2" cy="65.1" r="0.92"/>
<circle cx="454.5" cy="58.5" r="0.92"/>
<circle cx="454.5" cy="73.5" r="0.92"/>
<circle cx="453.9" cy="50.6" r="0.92"/>
<circle cx="452.4" cy="46.8" r="0.92"/>
<circle cx="455.0" cy="72.9" r="0.92"/>
<circle cx="453.2" cy="88.6" r="0.92"/>
<circle cx="453.1" cy="81.5" r="0.92"/>
<circle cx="453.4" cy="35.6" r="0.92"/>
<circle cx="458.9" cy="44.8" r="0.92"/>
<circle cx="453.0" cy="32.6" r="0.92"/>
<circle cx="455.3" cy="86.7" r="0.92"/>
<circle cx="454.2" cy="61.6" r="0.92"/>
<circle cx="450.6" cy="30.9" r="0.92"/>
<circle cx="453.8" cy="33.1" r="0.92"/>
<circle cx="458.7" cy="46.4" r="0.92"/>
<circle cx="452.6" cy="40.6" r="0.92"/>
<circle cx="454.8" cy="53.8" r="0.92"/>
<circle cx="455.2" cy="63.0" r="0.92"/>
<circle cx="456.1" cy="78.6" r="0.92"/>
<circle cx="454.1" cy="83.5" r="0.92"/>
<circle cx="454.2" cy="63.7" r="0.92"/>
<circle cx="455.5" cy="75.0" r="0.92"/>
<circle cx="456.2" cy="55.1" r="0.92"/>
<circle cx="454.6" cy="58.3" r="0.92"/>
<circle cx="454.4" cy="29.3" r="0.92"/>
<circle cx="454.3" cy="76.4" r="0.92"/>
<circle cx="456.6" cy="84.1" r="0.92"/>
<circle cx="454.9" cy="52.5" r="0.92"/>
<circle cx="459.2" cy="57.4" r="0.92"/>
<circle cx="418.2" cy="50.5" r="0.92"/>
<circle cx="414.9" cy="62.5" r="0.92"/>
<circle cx="415.7" cy="84.6" r="0.92"/>
<circle cx="424.8" cy="74.1" r="0.92"/>
<circle cx="418.3" cy="81.6" r="0.92"/>
<circle cx="457.1" cy="82.3" r="0.92"/>
<circle cx="419.1" cy="56.3" r="0.92"/>
<circle cx="461.4" cy="69.5" r="0.92"/>
<circle cx="459.9" cy="50.9" r="0.92"/>
<circle cx="416.5" cy="65.1" r="0.92"/>
<circle cx="420.2" cy="50.8" r="0.92"/>
<circle cx="464.8" cy="68.8" r="0.92"/>
<circle cx="459.4" cy="50.2" r="0.92"/>
<circle cx="420.4" cy="68.8" r="0.92"/>
<circle cx="420.0" cy="71.0" r="0.92"/>
<circle cx="420.4" cy="59.3" r="0.92"/>
<circle cx="459.5" cy="49.4" r="0.92"/>
<circle cx="421.6" cy="43.0" r="0.92"/>
<circle cx="417.6" cy="62.8" r="0.92"/>
<circle cx="459.3" cy="79.6" r="0.92"/>
<circle cx="463.2" cy="70.8" r="0.92"/>
<circle cx="421.5" cy="65.4" r="0.92"/>
<circle cx="460.9" cy="48.1" r="0.92"/>
<circle cx="409.6" cy="80.3" r="0.92"/>
<circle cx="408.1" cy="71.5" r="0.92"/>
<circle cx="400.3" cy="81.3" r="0.92"/>
<circle cx="408.7" cy="79.6" r="0.92"/>
<circle cx="408.7" cy="79.2" r="0.92"/>
<circle cx="408.3" cy="82.1" r="0.92"/>
<circle cx="405.5" cy="73.4" r="0.92"/>
<circle cx="405.9" cy="72.9" r="0.92"/>
<circle cx="405.6" cy="82.3" r="0.92"/>
<circle cx="402.5" cy="72.2" r="0.92"/>
<circle cx="410.0" cy="84.5" r="0.92"/>
<circle cx="406.3" cy="77.1" r="0.92"/>
<circle cx="405.5" cy="71.0" r="0.92"/>
<circle cx="404.2" cy="73.3" r="0.92"/>
<circle cx="413.4" cy="77.0" r="0.92"/>
<circle cx="402.0" cy="83.6" r="0.92"/>
<circle cx="413.1" cy="74.3" r="0.92"/>
<circle cx="400.3" cy="83.6" r="0.92"/>
<circle cx="404.4" cy="82.8" r="0.92"/>
<circle cx="402.7" cy="75.6" r="0.92"/>
<circle cx="410.5" cy="81.7" r="0.92"/>
<circle cx="402.4" cy="77.4" r="0.92"/>
<circle cx="402.4" cy="79.2" r="0.92"/>
<circle cx="409.1" cy="71.0" r="0.92"/>
<circle cx="467.0" cy="78.9" r="0.92"/>
<circle cx="466.6" cy="77.7" r="0.92"/>
<circle cx="467.1" cy="76.6" r="0.92"/>
<circle cx="466.3" cy="77.1" r="0.92"/>
<circle cx="467.0" cy="76.9" r="0.92"/>
<circle cx="467.3" cy="77.0" r="0.92"/>
<circle cx="467.6" cy="76.3" r="0.92"/>
<circle cx="466.9" cy="78.8" r="0.92"/>
<circle cx="467.1" cy="77.2" r="0.92"/>
<circle cx="478.2" cy="76.8" r="0.92"/>
<circle cx="474.2" cy="70.7" r="0.92"/>
<circle cx="486.6" cy="77.7" r="0.92"/>
<circle cx="474.5" cy="81.0" r="0.92"/>
<circle cx="478.3" cy="79.3" r="0.92"/>
<circle cx="486.3" cy="83.7" r="0.92"/>
<circle cx="476.6" cy="82.7" r="0.92"/>
<circle cx="481.5" cy="70.0" r="0.92"/>
<circle cx="474.7" cy="83.7" r="0.92"/>
<circle cx="478.8" cy="73.7" r="0.92"/>
<circle cx="485.4" cy="84.2" r="0.92"/>
<circle cx="473.6" cy="81.3" r="0.92"/>
<circle cx="475.2" cy="80.4" r="0.92"/>
<circle cx="482.6" cy="73.5" r="0.92"/>
<circle cx="475.3" cy="81.3" r="0.92"/>
<circle cx="476.2" cy="81.6" r="0.92"/>
<circle cx="483.2" cy="78.9" r="0.92"/>
<circle cx="480.1" cy="69.3" r="0.92"/>
<circle cx="479.1" cy="79.9" r="0.92"/>
<circle cx="485.1" cy="67.4" r="0.92"/>
<circle cx="422.6" cy="24.4" r="0.92"/>
<circle cx="433.5" cy="24.4" r="0.92"/>
<circle cx="420.4" cy="24.9" r="0.92"/>
<circle cx="433.4" cy="24.1" r="0.92"/>
<circle cx="423.4" cy="24.4" r="0.92"/>
<circle cx="425.7" cy="24.6" r="0.92"/>
<circle cx="434.1" cy="24.3" r="0.92"/>
<circle cx="420.7" cy="24.9" r="0.92"/>
<circle cx="424.9" cy="24.6" r="0.92"/>
<circle cx="430.7" cy="24.2" r="0.92"/>
<circle cx="427.3" cy="24.8" r="0.92"/>
<circle cx="419.3" cy="24.6" r="0.92"/>
<circle cx="421.1" cy="24.1" r="0.92"/>
<circle cx="425.7" cy="24.3" r="0.92"/>
<circle cx="434.2" cy="24.7" r="0.92"/>
<circle cx="426.0" cy="24.8" r="0.92"/>
<circle cx="430.2" cy="24.9" r="0.92"/>
<circle cx="431.1" cy="24.1" r="0.92"/>
<circle cx="431.1" cy="24.8" r="0.92"/>
<circle cx="421.3" cy="24.2" r="0.92"/>
<circle cx="418.2" cy="24.4" r="0.92"/>
<circle cx="424.8" cy="24.0" r="0.92"/>
<circle cx="426.9" cy="24.1" r="0.92"/>
<circle cx="421.9" cy="24.2" r="0.92"/>
<circle cx="423.9" cy="24.0" r="0.92"/>
<circle cx="418.1" cy="24.1" r="0.92"/>
<circle cx="451.4" cy="24.4" r="0.92"/>
<circle cx="459.5" cy="24.8" r="0.92"/>
<circle cx="467.2" cy="24.6" r="0.92"/>
<circle cx="454.0" cy="24.8" r="0.92"/>
<circle cx="453.9" cy="24.5" r="0.92"/>
<circle cx="464.3" cy="24.6" r="0.92"/>
<circle cx="463.6" cy="24.8" r="0.92"/>
<circle cx="456.1" cy="24.5" r="0.92"/>
<circle cx="470.7" cy="24.1" r="0.92"/>
<circle cx="462.7" cy="24.9" r="0.92"/>
<circle cx="455.7" cy="24.2" r="0.92"/>
<circle cx="452.1" cy="24.4" r="0.92"/>
<circle cx="457.7" cy="24.9" r="0.92"/>
<circle cx="471.3" cy="24.1" r="0.92"/>
<circle cx="451.4" cy="24.3" r="0.92"/>
<circle cx="453.5" cy="24.5" r="0.92"/>
<circle cx="459.8" cy="24.6" r="0.92"/>
<circle cx="454.7" cy="24.5" r="0.92"/>
<circle cx="463.0" cy="24.7" r="0.92"/>
<circle cx="451.2" cy="24.2" r="0.92"/>
<circle cx="454.5" cy="24.0" r="0.92"/>
<circle cx="460.4" cy="24.2" r="0.92"/>
<circle cx="454.5" cy="24.1" r="0.92"/>
<circle cx="448.4" cy="24.8" r="0.92"/>
<circle cx="448.5" cy="24.3" r="0.92"/>
<circle cx="464.1" cy="24.7" r="0.92"/>
<circle cx="456.3" cy="24.1" r="0.92"/>
<circle cx="461.2" cy="24.8" r="0.92"/>
<circle cx="451.9" cy="24.8" r="0.92"/>
<circle cx="449.3" cy="24.5" r="0.92"/>
<circle cx="447.9" cy="24.0" r="0.92"/>
<circle cx="457.0" cy="24.4" r="0.92"/>
<circle cx="462.6" cy="24.2" r="0.92"/>
<circle cx="467.0" cy="24.5" r="0.92"/>
<circle cx="454.5" cy="24.5" r="0.92"/>
<circle cx="446.5" cy="24.5" r="0.92"/>
<circle cx="463.9" cy="24.0" r="0.92"/>
<circle cx="466.2" cy="24.3" r="0.92"/>
<circle cx="461.6" cy="24.9" r="0.92"/>
<circle cx="454.5" cy="24.6" r="0.92"/>
<circle cx="462.6" cy="24.8" r="0.92"/>
<circle cx="455.7" cy="24.4" r="0.92"/>
<circle cx="434.1" cy="28.6" r="0.92"/>
<circle cx="432.6" cy="29.2" r="0.92"/>
<circle cx="433.9" cy="28.5" r="0.92"/>
<circle cx="432.1" cy="29.0" r="0.92"/>
<circle cx="431.7" cy="29.2" r="0.92"/>
<circle cx="433.5" cy="28.4" r="0.92"/>
<circle cx="431.8" cy="28.7" r="0.92"/>
<circle cx="434.5" cy="29.2" r="0.92"/>
<circle cx="435.4" cy="28.8" r="0.92"/>
<circle cx="429.2" cy="29.3" r="0.92"/>
<circle cx="429.6" cy="28.8" r="0.92"/>
<circle cx="433.3" cy="29.0" r="0.92"/>
<circle cx="452.2" cy="29.0" r="0.92"/>
<circle cx="449.1" cy="29.2" r="0.92"/>
<circle cx="452.5" cy="29.2" r="0.92"/>
<circle cx="452.0" cy="28.8" r="0.92"/>
<circle cx="449.8" cy="28.8" r="0.92"/>
<circle cx="447.8" cy="28.5" r="0.92"/>
<circle cx="452.6" cy="28.6" r="0.92"/>
<circle cx="450.0" cy="29.2" r="0.92"/>
<circle cx="451.5" cy="29.1" r="0.92"/>
<circle cx="452.0" cy="29.1" r="0.92"/>
<circle cx="446.6" cy="92.5" r="0.92"/>
<circle cx="422.0" cy="92.8" r="0.92"/>
<circle cx="415.0" cy="93.2" r="0.92"/>
<circle cx="421.6" cy="92.3" r="0.92"/>
<circle cx="469.8" cy="92.6" r="0.92"/>
<circle cx="429.7" cy="92.6" r="0.92"/>
<circle cx="457.0" cy="92.9" r="0.92"/>
<circle cx="447.7" cy="92.5" r="0.92"/>
<circle cx="411.2" cy="93.1" r="0.92"/>
<circle cx="439.9" cy="93.1" r="0.92"/>
<circle cx="434.7" cy="92.7" r="0.92"/>
<circle cx="421.2" cy="92.8" r="0.92"/>
<circle cx="426.9" cy="92.7" r="0.92"/>
<circle cx="431.3" cy="92.7" r="0.92"/>
<circle cx="412.6" cy="92.6" r="0.92"/>
<circle cx="419.4" cy="92.4" r="0.92"/>
<circle cx="448.3" cy="92.8" r="0.92"/>
<circle cx="436.3" cy="92.7" r="0.92"/>
<circle cx="453.9" cy="92.6" r="0.92"/>
<circle cx="457.9" cy="92.8" r="0.92"/>
<circle cx="473.3" cy="92.5" r="0.92"/>
<circle cx="464.4" cy="92.9" r="0.92"/>
<circle cx="437.7" cy="92.7" r="0.92"/>
<circle cx="467.6" cy="92.8" r="0.92"/>
<circle cx="443.5" cy="92.9" r="0.92"/>
<circle cx="467.5" cy="93.0" r="0.92"/>
<circle cx="413.7" cy="92.6" r="0.92"/>
<circle cx="467.3" cy="92.6" r="0.92"/>
<circle cx="448.1" cy="92.6" r="0.92"/>
<circle cx="429.5" cy="92.7" r="0.92"/>
<circle cx="414.6" cy="93.2" r="0.92"/>
<circle cx="438.5" cy="92.8" r="0.92"/>
<circle cx="435.4" cy="93.2" r="0.92"/>
<circle cx="454.3" cy="92.8" r="0.92"/>
<circle cx="425.4" cy="93.0" r="0.92"/>
<circle cx="435.3" cy="93.1" r="0.92"/>
<circle cx="414.5" cy="92.4" r="0.92"/>
<circle cx="471.5" cy="92.6" r="0.92"/>
<circle cx="465.1" cy="92.9" r="0.92"/>
<circle cx="461.3" cy="93.1" r="0.92"/>
<circle cx="457.5" cy="92.7" r="0.92"/>
<circle cx="467.5" cy="93.2" r="0.92"/>
<circle cx="460.4" cy="93.2" r="0.92"/>
<circle cx="444.3" cy="92.4" r="0.92"/>
<circle cx="410.2" cy="93.0" r="0.92"/>
</g>
<circle cx="421.47" cy="24.43" r="1.3" fill="#d7182a" />
<circle cx="423.31" cy="24.43" r="1.3" fill="#d7182a" />
<circle cx="427.24" cy="24.43" r="1.3" fill="#d7182a" />
<circle cx="429.07" cy="24.43" r="1.3" fill="#d7182a" />
<circle cx="430.64" cy="24.43" r="1.3" fill="#d7182a" />
<circle cx="418.59" cy="42.24" r="1.3" fill="#27469b" />
<circle cx="423.31" cy="41.12" r="1.3" fill="#27469b" />
<circle cx="428.71" cy="41.12" r="1.3" fill="#27469b" />
<circle cx="433.37" cy="72.13" r="1.3" fill="#27469b" />
<circle cx="435.52" cy="73.24" r="1.3" fill="#27469b" />
<circle cx="432.32" cy="77.38" r="1.3" fill="#27469b" />
<circle cx="420.69" cy="83.58" r="1.3" fill="#27469b" />
<circle cx="423.83" cy="82.78" r="1.3" fill="#27469b" />
<circle cx="433.26" cy="89.62" r="1.3" fill="#27469b" />
<circle cx="438.71" cy="89.62" r="1.3" fill="#27469b" />
<circle cx="427.66" cy="46.69" r="1.3" fill="#6aa84f" />
<circle cx="433.37" cy="57.82" r="1.3" fill="#6aa84f" />
<circle cx="439.13" cy="91.69" r="1.3" fill="#6aa84f" />
<circle cx="441.23" cy="92.80" r="1.3" fill="#6aa84f" />
<circle cx="427.66" cy="85.33" r="1.3" fill="#d7182a" />
<circle cx="433.37" cy="93.44" r="1.3" fill="#d7182a" />
<circle cx="435.52" cy="93.44" r="1.3" fill="#d7182a" />
<text x="519.90" y="136.17" font-size="9.42" fill="#231f20" stroke="#231f20" stroke-width="0.14" text-anchor="end">Seli72hoursST vs DMSO72hours</text>
<line x1="393.80" y1="140.80" x2="393.80" y2="215.00" stroke="#231f20" stroke-width="1.0" />
<line x1="393.30" y1="215.00" x2="492.00" y2="215.00" stroke="#231f20" stroke-width="1.0" />
<line x1="391.40" y1="211.80" x2="393.80" y2="211.80" stroke="#231f20" stroke-width="0.8" />
<text x="389.60" y="214.74" font-size="8.2" fill="#231f20" stroke="#231f20" stroke-width="0.14" text-anchor="end">0</text>
<line x1="391.40" y1="196.00" x2="393.80" y2="196.00" stroke="#231f20" stroke-width="0.8" />
<text x="389.60" y="198.94" font-size="8.2" fill="#231f20" stroke="#231f20" stroke-width="0.14" text-anchor="end">1</text>
<line x1="391.40" y1="180.20" x2="393.80" y2="180.20" stroke="#231f20" stroke-width="0.8" />
<text x="389.60" y="183.14" font-size="8.2" fill="#231f20" stroke="#231f20" stroke-width="0.14" text-anchor="end">2</text>
<line x1="391.40" y1="164.40" x2="393.80" y2="164.40" stroke="#231f20" stroke-width="0.8" />
<text x="389.60" y="167.34" font-size="8.2" fill="#231f20" stroke="#231f20" stroke-width="0.14" text-anchor="end">3</text>
<line x1="391.40" y1="148.60" x2="393.80" y2="148.60" stroke="#231f20" stroke-width="0.8" />
<text x="389.60" y="151.54" font-size="8.2" fill="#231f20" stroke="#231f20" stroke-width="0.14" text-anchor="end">4</text>
<line x1="416.00" y1="215.00" x2="416.00" y2="217.40" stroke="#231f20" stroke-width="0.8" />
<text x="415.00" y="226.64" font-size="8.2" fill="#231f20" stroke="#231f20" stroke-width="0.14" text-anchor="middle">−5</text>
<line x1="443.70" y1="215.00" x2="443.70" y2="217.40" stroke="#231f20" stroke-width="0.8" />
<text x="443.70" y="226.64" font-size="8.2" fill="#231f20" stroke="#231f20" stroke-width="0.14" text-anchor="middle">0</text>
<line x1="471.70" y1="215.00" x2="471.70" y2="217.40" stroke="#231f20" stroke-width="0.8" />
<text x="471.70" y="226.64" font-size="8.2" fill="#231f20" stroke="#231f20" stroke-width="0.14" text-anchor="middle">5</text>
<text transform="translate(445.20 236.42) scale(0.72 1)" font-size="9" fill="#231f20" stroke="#231f20" stroke-width="0.3" text-anchor="middle">Log<tspan font-size="5.5" dy="1.8" dx="0.4">2</tspan><tspan dy="-1.8" dx="0.4">FC</tspan></text>
<text transform="translate(375.62 179.50) rotate(-90) scale(0.72 1)" font-size="9" fill="#231f20" stroke="#231f20" stroke-width="0.3" text-anchor="middle">-log<tspan font-size="5.5" dy="1.8" dx="0.4">10</tspan><tspan dy="-1.8" dx="0.3">(padjust)</tspan></text>
<polygon points="433.1,212.6 433.9,205.5 436.4,195.5 438.1,186.8 438.9,175.5 439.4,166.0 440.1,167.9 441.2,180.2 442.0,186.8 442.7,195.5 443.4,204.2 443.7,204.7 444.1,204.2 444.7,195.5 445.3,186.8 446.5,180.2 447.6,174.8 448.1,173.1 448.7,180.2 449.6,186.8 451.0,195.5 453.2,205.5 453.8,212.6" fill="#c1c1c1" filter="url(#b0)"/>
<g fill="#c9c9c9">
<circle cx="450.9" cy="199.2" r="0.92"/>
<circle cx="435.4" cy="191.0" r="0.92"/>
<circle cx="437.4" cy="200.7" r="0.92"/>
<circle cx="453.7" cy="181.8" r="0.92"/>
<circle cx="434.9" cy="171.7" r="0.92"/>
<circle cx="453.5" cy="173.1" r="0.92"/>
<circle cx="454.5" cy="148.9" r="0.92"/>
<circle cx="455.2" cy="196.4" r="0.92"/>
<circle cx="454.2" cy="171.6" r="0.92"/>
<circle cx="434.5" cy="172.1" r="0.92"/>
<circle cx="452.4" cy="200.5" r="0.92"/>
<circle cx="452.1" cy="174.1" r="0.92"/>
<circle cx="449.5" cy="198.1" r="0.92"/>
<circle cx="448.9" cy="192.8" r="0.92"/>
<circle cx="432.8" cy="203.7" r="0.92"/>
<circle cx="450.0" cy="183.4" r="0.92"/>
<circle cx="432.6" cy="148.6" r="0.92"/>
<circle cx="432.8" cy="174.7" r="0.92"/>
<circle cx="452.3" cy="206.1" r="0.92"/>
<circle cx="451.8" cy="177.6" r="0.92"/>
<circle cx="450.5" cy="194.1" r="0.92"/>
<circle cx="434.3" cy="165.6" r="0.92"/>
<circle cx="434.1" cy="191.9" r="0.92"/>
<circle cx="454.4" cy="161.3" r="0.92"/>
<circle cx="434.7" cy="174.3" r="0.92"/>
<circle cx="449.6" cy="182.5" r="0.92"/>
<circle cx="433.9" cy="187.1" r="0.92"/>
<circle cx="437.4" cy="197.1" r="0.92"/>
<circle cx="438.3" cy="186.8" r="0.92"/>
<circle cx="453.1" cy="159.1" r="0.92"/>
<circle cx="455.7" cy="206.8" r="0.92"/>
<circle cx="436.7" cy="196.7" r="0.92"/>
<circle cx="437.3" cy="181.8" r="0.92"/>
<circle cx="450.9" cy="178.2" r="0.92"/>
<circle cx="434.3" cy="175.5" r="0.92"/>
<circle cx="450.1" cy="191.1" r="0.92"/>
<circle cx="453.9" cy="197.4" r="0.92"/>
<circle cx="453.1" cy="161.7" r="0.92"/>
<circle cx="455.5" cy="165.6" r="0.92"/>
<circle cx="433.7" cy="176.9" r="0.92"/>
<circle cx="434.6" cy="169.8" r="0.92"/>
<circle cx="452.3" cy="206.6" r="0.92"/>
<circle cx="438.1" cy="191.5" r="0.92"/>
<circle cx="452.9" cy="204.5" r="0.92"/>
<circle cx="438.2" cy="190.5" r="0.92"/>
<circle cx="438.5" cy="196.2" r="0.92"/>
<circle cx="455.8" cy="170.4" r="0.92"/>
<circle cx="429.9" cy="204.6" r="0.92"/>
<circle cx="434.6" cy="152.3" r="0.92"/>
<circle cx="450.9" cy="172.8" r="0.92"/>
<circle cx="433.7" cy="187.4" r="0.92"/>
<circle cx="437.7" cy="186.0" r="0.92"/>
<circle cx="454.8" cy="147.5" r="0.92"/>
<circle cx="435.5" cy="175.0" r="0.92"/>
<circle cx="452.3" cy="175.1" r="0.92"/>
<circle cx="433.8" cy="162.3" r="0.92"/>
<circle cx="437.6" cy="185.6" r="0.92"/>
<circle cx="454.8" cy="157.2" r="0.92"/>
<circle cx="439.0" cy="194.4" r="0.92"/>
<circle cx="453.6" cy="181.7" r="0.92"/>
<circle cx="453.1" cy="157.7" r="0.92"/>
<circle cx="449.5" cy="185.1" r="0.92"/>
<circle cx="449.6" cy="180.3" r="0.92"/>
<circle cx="436.2" cy="183.1" r="0.92"/>
<circle cx="435.0" cy="174.9" r="0.92"/>
<circle cx="437.7" cy="183.6" r="0.92"/>
<circle cx="437.6" cy="181.8" r="0.92"/>
<circle cx="453.3" cy="148.5" r="0.92"/>
<circle cx="434.7" cy="162.0" r="0.92"/>
<circle cx="435.3" cy="181.6" r="0.92"/>
<circle cx="436.1" cy="175.1" r="0.92"/>
<circle cx="434.7" cy="155.9" r="0.92"/>
<circle cx="452.0" cy="177.4" r="0.92"/>
<circle cx="448.7" cy="186.8" r="0.92"/>
<circle cx="434.7" cy="203.3" r="0.92"/>
<circle cx="431.7" cy="167.0" r="0.92"/>
<circle cx="430.4" cy="149.7" r="0.92"/>
<circle cx="431.3" cy="149.3" r="0.92"/>
<circle cx="436.9" cy="176.3" r="0.92"/>
<circle cx="453.5" cy="174.4" r="0.92"/>
<circle cx="433.0" cy="167.6" r="0.92"/>
<circle cx="454.7" cy="203.4" r="0.92"/>
<circle cx="436.0" cy="191.5" r="0.92"/>
<circle cx="453.2" cy="161.5" r="0.92"/>
<circle cx="452.8" cy="159.1" r="0.92"/>
<circle cx="451.9" cy="168.3" r="0.92"/>
<circle cx="455.2" cy="206.6" r="0.92"/>
<circle cx="451.0" cy="166.8" r="0.92"/>
<circle cx="438.1" cy="194.6" r="0.92"/>
<circle cx="434.4" cy="197.6" r="0.92"/>
<circle cx="433.9" cy="170.2" r="0.92"/>
<circle cx="436.1" cy="175.7" r="0.92"/>
<circle cx="434.9" cy="156.7" r="0.92"/>
<circle cx="434.2" cy="200.1" r="0.92"/>
<circle cx="449.6" cy="185.6" r="0.92"/>
<circle cx="436.8" cy="198.2" r="0.92"/>
<circle cx="437.0" cy="197.5" r="0.92"/>
<circle cx="431.9" cy="186.9" r="0.92"/>
<circle cx="432.8" cy="160.5" r="0.92"/>
<circle cx="436.4" cy="202.8" r="0.92"/>
<circle cx="437.5" cy="180.2" r="0.92"/>
<circle cx="437.2" cy="197.3" r="0.92"/>
<circle cx="436.3" cy="179.2" r="0.92"/>
<circle cx="450.3" cy="189.0" r="0.92"/>
<circle cx="432.5" cy="182.8" r="0.92"/>
<circle cx="449.0" cy="184.5" r="0.92"/>
<circle cx="434.0" cy="205.6" r="0.92"/>
<circle cx="454.7" cy="165.5" r="0.92"/>
<circle cx="455.7" cy="150.2" r="0.92"/>
<circle cx="436.7" cy="182.5" r="0.92"/>
<circle cx="449.9" cy="182.9" r="0.92"/>
<circle cx="433.6" cy="153.5" r="0.92"/>
<circle cx="451.5" cy="167.1" r="0.92"/>
<circle cx="451.6" cy="196.4" r="0.92"/>
<circle cx="449.7" cy="181.5" r="0.92"/>
<circle cx="435.6" cy="170.9" r="0.92"/>
<circle cx="451.1" cy="191.7" r="0.92"/>
<circle cx="431.3" cy="148.6" r="0.92"/>
<circle cx="430.4" cy="177.5" r="0.92"/>
<circle cx="435.5" cy="200.1" r="0.92"/>
<circle cx="450.0" cy="187.1" r="0.92"/>
<circle cx="454.6" cy="152.0" r="0.92"/>
<circle cx="452.6" cy="153.0" r="0.92"/>
<circle cx="433.0" cy="209.4" r="0.92"/>
<circle cx="461.0" cy="194.5" r="0.92"/>
<circle cx="458.6" cy="197.0" r="0.92"/>
<circle cx="431.6" cy="199.3" r="0.92"/>
<circle cx="426.8" cy="206.5" r="0.92"/>
<circle cx="425.3" cy="209.7" r="0.92"/>
<circle cx="431.1" cy="196.5" r="0.92"/>
<circle cx="459.1" cy="208.5" r="0.92"/>
<circle cx="455.9" cy="203.8" r="0.92"/>
<circle cx="425.4" cy="194.0" r="0.92"/>
<circle cx="460.1" cy="209.5" r="0.92"/>
<circle cx="460.9" cy="208.4" r="0.92"/>
<circle cx="433.0" cy="207.7" r="0.92"/>
<circle cx="457.6" cy="202.1" r="0.92"/>
<circle cx="431.5" cy="204.0" r="0.92"/>
<circle cx="426.0" cy="196.5" r="0.92"/>
<circle cx="433.0" cy="198.1" r="0.92"/>
<circle cx="458.8" cy="211.1" r="0.92"/>
<circle cx="458.9" cy="198.5" r="0.92"/>
<circle cx="431.3" cy="195.0" r="0.92"/>
<circle cx="432.0" cy="197.2" r="0.92"/>
<circle cx="432.2" cy="210.7" r="0.92"/>
<circle cx="426.4" cy="193.9" r="0.92"/>
<circle cx="458.2" cy="201.8" r="0.92"/>
<circle cx="428.7" cy="195.3" r="0.92"/>
<circle cx="429.1" cy="211.7" r="0.92"/>
<circle cx="454.3" cy="195.7" r="0.92"/>
<circle cx="459.1" cy="207.2" r="0.92"/>
<circle cx="425.8" cy="205.5" r="0.92"/>
<circle cx="432.4" cy="202.6" r="0.92"/>
<circle cx="459.8" cy="195.8" r="0.92"/>
<circle cx="459.5" cy="199.7" r="0.92"/>
<circle cx="460.3" cy="206.2" r="0.92"/>
<circle cx="461.4" cy="207.2" r="0.92"/>
<circle cx="430.5" cy="210.4" r="0.92"/>
<circle cx="461.4" cy="198.7" r="0.92"/>
<circle cx="426.0" cy="200.8" r="0.92"/>
<circle cx="429.7" cy="207.6" r="0.92"/>
<circle cx="429.5" cy="201.5" r="0.92"/>
<circle cx="432.5" cy="202.7" r="0.92"/>
<circle cx="400.7" cy="199.7" r="0.92"/>
<circle cx="399.8" cy="202.5" r="0.92"/>
<circle cx="410.1" cy="195.6" r="0.92"/>
<circle cx="406.4" cy="201.0" r="0.92"/>
<circle cx="403.0" cy="195.4" r="0.92"/>
<circle cx="406.7" cy="195.7" r="0.92"/>
<circle cx="412.8" cy="203.2" r="0.92"/>
<circle cx="414.1" cy="199.6" r="0.92"/>
<circle cx="400.8" cy="201.2" r="0.92"/>
<circle cx="402.8" cy="195.8" r="0.92"/>
<circle cx="407.4" cy="197.3" r="0.92"/>
<circle cx="409.2" cy="204.3" r="0.92"/>
<circle cx="399.3" cy="200.6" r="0.92"/>
<circle cx="405.6" cy="196.1" r="0.92"/>
<circle cx="413.9" cy="195.9" r="0.92"/>
<circle cx="416.2" cy="196.5" r="0.92"/>
<circle cx="405.1" cy="200.1" r="0.92"/>
<circle cx="412.4" cy="196.9" r="0.92"/>
<circle cx="406.1" cy="195.9" r="0.92"/>
<circle cx="401.9" cy="200.4" r="0.92"/>
<circle cx="414.8" cy="201.4" r="0.92"/>
<circle cx="401.2" cy="199.4" r="0.92"/>
<circle cx="408.6" cy="203.9" r="0.92"/>
<circle cx="412.3" cy="201.7" r="0.92"/>
<circle cx="472.1" cy="202.1" r="0.92"/>
<circle cx="486.0" cy="203.0" r="0.92"/>
<circle cx="475.8" cy="198.9" r="0.92"/>
<circle cx="474.6" cy="197.1" r="0.92"/>
<circle cx="473.7" cy="203.9" r="0.92"/>
<circle cx="480.7" cy="196.3" r="0.92"/>
<circle cx="469.9" cy="196.3" r="0.92"/>
<circle cx="470.4" cy="204.1" r="0.92"/>
<circle cx="470.7" cy="201.4" r="0.92"/>
<circle cx="471.1" cy="202.7" r="0.92"/>
<circle cx="480.8" cy="203.7" r="0.92"/>
<circle cx="476.1" cy="203.6" r="0.92"/>
<circle cx="473.7" cy="200.7" r="0.92"/>
<circle cx="482.6" cy="198.1" r="0.92"/>
<circle cx="471.0" cy="198.5" r="0.92"/>
<circle cx="486.7" cy="202.6" r="0.92"/>
<circle cx="480.5" cy="198.4" r="0.92"/>
<circle cx="479.4" cy="202.4" r="0.92"/>
<circle cx="472.7" cy="197.1" r="0.92"/>
<circle cx="482.1" cy="198.5" r="0.92"/>
<circle cx="481.1" cy="201.3" r="0.92"/>
<circle cx="483.6" cy="202.0" r="0.92"/>
<circle cx="430.6" cy="144.4" r="0.92"/>
<circle cx="427.8" cy="144.0" r="0.92"/>
<circle cx="431.9" cy="144.2" r="0.92"/>
<circle cx="424.1" cy="144.7" r="0.92"/>
<circle cx="461.3" cy="144.4" r="0.92"/>
<circle cx="461.9" cy="144.6" r="0.92"/>
<circle cx="461.8" cy="144.2" r="0.92"/>
<circle cx="427.2" cy="143.9" r="0.92"/>
<circle cx="454.7" cy="144.7" r="0.92"/>
<circle cx="453.4" cy="144.5" r="0.92"/>
<circle cx="430.7" cy="144.4" r="0.92"/>
<circle cx="422.9" cy="144.1" r="0.92"/>
<circle cx="426.4" cy="144.8" r="0.92"/>
<circle cx="452.6" cy="144.3" r="0.92"/>
<circle cx="427.3" cy="144.2" r="0.92"/>
<circle cx="453.1" cy="144.3" r="0.92"/>
<circle cx="444.4" cy="211.5" r="0.92"/>
<circle cx="445.7" cy="211.5" r="0.92"/>
<circle cx="440.5" cy="211.8" r="0.92"/>
<circle cx="413.7" cy="212.1" r="0.92"/>
<circle cx="443.6" cy="211.8" r="0.92"/>
<circle cx="418.4" cy="212.1" r="0.92"/>
<circle cx="458.3" cy="212.1" r="0.92"/>
<circle cx="418.2" cy="211.8" r="0.92"/>
<circle cx="416.4" cy="211.6" r="0.92"/>
<circle cx="420.9" cy="211.4" r="0.92"/>
<circle cx="459.4" cy="212.3" r="0.92"/>
<circle cx="463.8" cy="212.2" r="0.92"/>
<circle cx="453.8" cy="211.4" r="0.92"/>
<circle cx="474.0" cy="211.9" r="0.92"/>
<circle cx="443.9" cy="211.8" r="0.92"/>
<circle cx="477.1" cy="211.4" r="0.92"/>
<circle cx="421.6" cy="212.1" r="0.92"/>
<circle cx="458.4" cy="211.5" r="0.92"/>
<circle cx="414.2" cy="212.0" r="0.92"/>
<circle cx="414.1" cy="211.4" r="0.92"/>
<circle cx="465.6" cy="212.1" r="0.92"/>
<circle cx="414.5" cy="212.2" r="0.92"/>
<circle cx="467.9" cy="211.5" r="0.92"/>
<circle cx="457.4" cy="211.8" r="0.92"/>
<circle cx="468.1" cy="212.2" r="0.92"/>
<circle cx="467.1" cy="211.5" r="0.92"/>
<circle cx="432.7" cy="211.6" r="0.92"/>
<circle cx="467.4" cy="212.0" r="0.92"/>
<circle cx="451.4" cy="211.7" r="0.92"/>
<circle cx="448.3" cy="212.2" r="0.92"/>
<circle cx="446.5" cy="212.1" r="0.92"/>
<circle cx="422.7" cy="212.1" r="0.92"/>
<circle cx="420.2" cy="211.8" r="0.92"/>
<circle cx="430.7" cy="211.3" r="0.92"/>
<circle cx="465.6" cy="212.2" r="0.92"/>
<circle cx="467.0" cy="212.0" r="0.92"/>
<circle cx="445.3" cy="211.7" r="0.92"/>
<circle cx="437.7" cy="211.7" r="0.92"/>
<circle cx="427.8" cy="211.9" r="0.92"/>
<circle cx="475.9" cy="211.6" r="0.92"/>
<circle cx="462.7" cy="211.8" r="0.92"/>
<circle cx="442.6" cy="211.6" r="0.92"/>
<circle cx="414.1" cy="211.3" r="0.92"/>
<circle cx="441.7" cy="212.2" r="0.92"/>
<circle cx="418.8" cy="211.8" r="0.92"/>
</g>
<circle cx="443.59" cy="201.69" r="1.3" fill="#d7182a" />
<circle cx="441.85" cy="205.95" r="1.3" fill="#d7182a" />
<circle cx="444.99" cy="205.95" r="1.3" fill="#d7182a" />
<circle cx="441.01" cy="200.74" r="1.3" fill="#27469b" />
<circle cx="446.72" cy="203.43" r="1.3" fill="#27469b" />
<circle cx="446.72" cy="206.11" r="1.3" fill="#27469b" />
<circle cx="440.90" cy="208.64" r="1.3" fill="#27469b" />
<circle cx="442.69" cy="209.90" r="1.3" fill="#6aa84f" />
<circle cx="444.71" cy="210.54" r="1.3" fill="#6aa84f" />
<circle cx="443.70" cy="208.64" r="1.3" fill="#6aa84f" />
<rect x="381.00" y="249.00" width="5.50" height="5.50" fill="#d7182a" />
<text x="389.80" y="254.45" font-size="7.4" fill="#231f20" stroke="#231f20" stroke-width="0.14">HOXA</text>
<rect x="419.30" y="249.00" width="5.50" height="5.50" fill="#27469b" />
<text x="427.80" y="254.45" font-size="7.4" fill="#231f20" stroke="#231f20" stroke-width="0.14">HOXB</text>
<rect x="457.70" y="249.00" width="5.50" height="5.50" fill="#6aa84f" />
<text x="466.20" y="254.45" font-size="7.4" fill="#231f20" stroke="#231f20" stroke-width="0.14">MEIS/PBX</text>
</g>
<g id="panelD">
<text x="-0.70" y="309.64" font-size="11" fill="#000" stroke="#000" stroke-width="0.084" font-weight="bold">D</text>
<text x="73.10" y="311.85" font-size="8.8" fill="#231f20" stroke="#231f20" stroke-width="0.14" text-anchor="middle">Enriched in neutrophils</text>
<text x="74.5" y="320.20" font-size="3.9" fill="#4a4a4a" text-anchor="middle" textLength="105" lengthAdjust="spacingAndGlyphs">Enrichment plot: HAY_BONE_MARROW_NEUTROPHIL</text>
<rect x="23.00" y="322.60" width="103.00" height="44.70" fill="#fff" stroke="#a6a6a6" stroke-width="0.4"/>
<line x1="23.00" y1="366.10" x2="126.00" y2="366.10" stroke="#d0d0d0" stroke-width="0.3" stroke-dasharray="0.8 0.8"/>
<text x="22.00" y="367.42" font-size="3.7" fill="#333" text-anchor="end">0.0</text>
<line x1="23.00" y1="360.19" x2="126.00" y2="360.19" stroke="#d0d0d0" stroke-width="0.3" stroke-dasharray="0.8 0.8"/>
<text x="22.00" y="361.51" font-size="3.7" fill="#333" text-anchor="end">0.1</text>
<line x1="23.00" y1="354.28" x2="126.00" y2="354.28" stroke="#d0d0d0" stroke-width="0.3" stroke-dasharray="0.8 0.8"/>
<text x="22.00" y="355.60" font-size="3.7" fill="#333" text-anchor="end">0.2</text>
<line x1="23.00" y1="348.37" x2="126.00" y2="348.37" stroke="#d0d0d0" stroke-width="0.3" stroke-dasharray="0.8 0.8"/>
<text x="22.00" y="349.69" font-size="3.7" fill="#333" text-anchor="end">0.3</text>
<line x1="23.00" y1="342.46" x2="126.00" y2="342.46" stroke="#d0d0d0" stroke-width="0.3" stroke-dasharray="0.8 0.8"/>
<text x="22.00" y="343.78" font-size="3.7" fill="#333" text-anchor="end">0.4</text>
<line x1="23.00" y1="336.55" x2="126.00" y2="336.55" stroke="#d0d0d0" stroke-width="0.3" stroke-dasharray="0.8 0.8"/>
<text x="22.00" y="337.87" font-size="3.7" fill="#333" text-anchor="end">0.5</text>
<line x1="23.00" y1="330.64" x2="126.00" y2="330.64" stroke="#d0d0d0" stroke-width="0.3" stroke-dasharray="0.8 0.8"/>
<text x="22.00" y="331.96" font-size="3.7" fill="#333" text-anchor="end">0.6</text>
<line x1="23.00" y1="324.73" x2="126.00" y2="324.73" stroke="#d0d0d0" stroke-width="0.3" stroke-dasharray="0.8 0.8"/>
<text x="22.00" y="326.05" font-size="3.7" fill="#333" text-anchor="end">0.7</text>
<line x1="43.27" y1="322.60" x2="43.27" y2="367.30" stroke="#d0d0d0" stroke-width="0.3" stroke-dasharray="0.8 0.8"/>
<line x1="63.54" y1="322.60" x2="63.54" y2="367.30" stroke="#d0d0d0" stroke-width="0.3" stroke-dasharray="0.8 0.8"/>
<line x1="83.81" y1="322.60" x2="83.81" y2="367.30" stroke="#d0d0d0" stroke-width="0.3" stroke-dasharray="0.8 0.8"/>
<line x1="104.08" y1="322.60" x2="104.08" y2="367.30" stroke="#d0d0d0" stroke-width="0.3" stroke-dasharray="0.8 0.8"/>
<line x1="124.35" y1="322.60" x2="124.35" y2="367.30" stroke="#d0d0d0" stroke-width="0.3" stroke-dasharray="0.8 0.8"/>
<line x1="23.00" y1="366.10" x2="126.00" y2="366.10" stroke="#666" stroke-width="0.5" />
<path d="M23,366.1 L23.4,358 C24.6,346 27,335.5 31.2,328.7 C34,325.3 37,324.3 39.2,324.3 C43,324.3 48,326.2 54,329.4 C62,334 70,340 78,345.7 C86,351 91,354.2 96,357.3 C103,361.2 108,363.3 111.6,364.6 C116,366 119,366.6 121,366.4" fill="none" stroke="#5dae41" stroke-width="0.7" stroke-linejoin="round"/>
<g fill="#080808">
<rect x="23.00" y="370.0" width="29.40" height="14.60"/>
<rect x="54.10" y="370.0" width="0.60" height="14.60"/>
<rect x="58.00" y="370.0" width="0.60" height="14.60"/>
<rect x="60.35" y="370.0" width="0.50" height="14.60"/>
<rect x="62.70" y="370.0" width="0.60" height="14.60"/>
<rect x="64.15" y="370.0" width="0.50" height="14.60"/>
<rect x="68.00" y="370.0" width="0.60" height="14.60"/>
<rect x="70.60" y="370.0" width="0.60" height="14.60"/>
<rect x="75.45" y="370.0" width="1.30" height="14.60"/>
<rect x="79.50" y="370.0" width="0.60" height="14.60"/>
<rect x="86.70" y="370.0" width="0.97" height="14.60"/>
<rect x="87.94" y="370.0" width="0.81" height="14.60"/>
<rect x="88.98" y="370.0" width="0.75" height="14.60"/>
<rect x="89.88" y="370.0" width="2.12" height="14.60"/>
<rect x="92.15" y="370.0" width="1.59" height="14.60"/>
<rect x="93.92" y="370.0" width="1.30" height="14.60"/>
<rect x="95.42" y="370.0" width="0.91" height="14.60"/>
<rect x="96.58" y="370.0" width="0.76" height="14.60"/>
<rect x="97.49" y="370.0" width="0.65" height="14.60"/>
<rect x="98.29" y="370.0" width="1.24" height="14.60"/>
<rect x="99.79" y="370.0" width="1.19" height="14.60"/>
<rect x="101.11" y="370.0" width="1.01" height="14.60"/>
<rect x="102.40" y="370.0" width="0.72" height="14.60"/>
<rect x="103.33" y="370.0" width="1.19" height="14.60"/>
<rect x="104.75" y="370.0" width="1.13" height="14.60"/>
<rect x="106.11" y="370.0" width="1.37" height="14.60"/>
<rect x="107.70" y="370.0" width="1.98" height="14.60"/>
<rect x="109.88" y="370.0" width="0.84" height="14.60"/>
<rect x="110.83" y="370.0" width="0.57" height="14.60"/>
<rect x="112.40" y="370.0" width="0.73" height="14.60"/>
<rect x="113.60" y="370.0" width="0.80" height="14.60"/>
<rect x="117.30" y="370.0" width="1.71" height="14.60"/>
<rect x="119.23" y="370.0" width="1.02" height="14.60"/>
</g>
<g fill="#fff">
<rect x="39.27" y="370.0" width="0.45" height="14.60" opacity="0.8"/>
<rect x="41.85" y="370.0" width="0.30" height="14.60" opacity="0.8"/>
<rect x="43.67" y="370.0" width="0.45" height="14.60" opacity="0.8"/>
<rect x="45.70" y="370.0" width="0.40" height="14.60" opacity="0.8"/>
<rect x="48.15" y="370.0" width="0.50" height="14.60" opacity="0.8"/>
<rect x="50.62" y="370.0" width="0.35" height="14.60" opacity="0.8"/>
</g>
<rect x="120.90" y="384.60" width="5.10" height="3.70" fill="#eeeefa" />
<rect x="23.00" y="384.60" width="97.90" height="3.70" fill="url(#cbar1)" />
<rect x="23.00" y="388.30" width="103.00" height="31.50" fill="#fff" stroke="#a6a6a6" stroke-width="0.4"/>
<line x1="23.00" y1="391.70" x2="126.00" y2="391.70" stroke="#d0d0d0" stroke-width="0.3" stroke-dasharray="0.8 0.8"/>
<text x="22.00" y="393.02" font-size="3.7" fill="#333" text-anchor="end">4</text>
<line x1="23.00" y1="397.50" x2="126.00" y2="397.50" stroke="#d0d0d0" stroke-width="0.3" stroke-dasharray="0.8 0.8"/>
<text x="22.00" y="398.82" font-size="3.7" fill="#333" text-anchor="end">2</text>
<line x1="23.00" y1="403.30" x2="126.00" y2="403.30" stroke="#d0d0d0" stroke-width="0.3" stroke-dasharray="0.8 0.8"/>
<text x="22.00" y="404.62" font-size="3.7" fill="#333" text-anchor="end">0</text>
<line x1="23.00" y1="409.10" x2="126.00" y2="409.10" stroke="#d0d0d0" stroke-width="0.3" stroke-dasharray="0.8 0.8"/>
<text x="22.00" y="410.42" font-size="3.7" fill="#333" text-anchor="end">−2</text>
<line x1="23.00" y1="414.90" x2="126.00" y2="414.90" stroke="#d0d0d0" stroke-width="0.3" stroke-dasharray="0.8 0.8"/>
<text x="22.00" y="416.22" font-size="3.7" fill="#333" text-anchor="end">−4</text>
<line x1="43.27" y1="388.30" x2="43.27" y2="419.80" stroke="#d0d0d0" stroke-width="0.3" stroke-dasharray="0.8 0.8"/>
<line x1="63.54" y1="388.30" x2="63.54" y2="419.80" stroke="#d0d0d0" stroke-width="0.3" stroke-dasharray="0.8 0.8"/>
<line x1="83.81" y1="388.30" x2="83.81" y2="419.80" stroke="#d0d0d0" stroke-width="0.3" stroke-dasharray="0.8 0.8"/>
<line x1="104.08" y1="388.30" x2="104.08" y2="419.80" stroke="#d0d0d0" stroke-width="0.3" stroke-dasharray="0.8 0.8"/>
<line x1="124.35" y1="388.30" x2="124.35" y2="419.80" stroke="#d0d0d0" stroke-width="0.3" stroke-dasharray="0.8 0.8"/>
<path d="M23.0,403.3 L23.0,394.0 C23.8,399.6 27.0,401.4 35.0,402.3 L52.9,403.2 L111.9,403.9 C117.9,404.4 119.7,406.2 120.6,414.8 L120.9,403.3 Z" fill="#bcbcbc"/>
<line x1="23.00" y1="403.30" x2="120.90" y2="403.30" stroke="#bcbcbc" stroke-width="0.35" />
<line x1="52.90" y1="389.50" x2="52.90" y2="419.00" stroke="#555" stroke-width="0.45" stroke-dasharray="1.5 1.1"/>
<text x="25.5" y="391.1" font-size="2.5" fill="#e35" opacity="0.6" textLength="31" lengthAdjust="spacingAndGlyphs">72h_CT (positively correlated)</text>
<text x="53.9" y="393.8" font-size="2.3" fill="#888" textLength="14" lengthAdjust="spacingAndGlyphs">Zero cross at 7384</text>
<text x="116.9" y="417.9" font-size="2.5" fill="#55a" text-anchor="end" textLength="36" lengthAdjust="spacingAndGlyphs">DMSO_72 (negatively correlated)</text>
<text x="23.50" y="424.56" font-size="3.8" fill="#333" text-anchor="middle">0</text>
<text x="43.77" y="424.56" font-size="3.8" fill="#333" text-anchor="middle">5,000</text>
<text x="64.04" y="424.56" font-size="3.8" fill="#333" text-anchor="middle">10,000</text>
<text x="84.31" y="424.56" font-size="3.8" fill="#333" text-anchor="middle">15,000</text>
<text x="104.58" y="424.56" font-size="3.8" fill="#333" text-anchor="middle">20,000</text>
<text x="124.85" y="424.56" font-size="3.8" fill="#333" text-anchor="middle">25,000</text>
<text transform="translate(74.80 432.71) scale(0.7 1)" font-size="5.9" fill="#333" stroke="#333" stroke-width="0.084" text-anchor="middle" font-weight="bold">Rank in ordered dataset</text>
<line x1="24.00" y1="439.20" x2="27.00" y2="439.20" stroke="#62b34a" stroke-width="0.5" />
<text x="29.20" y="440.56" font-size="3.8" fill="#444">Enrichment profile</text>
<line x1="63.00" y1="439.20" x2="66.00" y2="439.20" stroke="#111" stroke-width="0.7" />
<text x="68.00" y="440.56" font-size="3.8" fill="#444">Hits</text>
<line x1="78.50" y1="439.20" x2="81.50" y2="439.20" stroke="#aaa" stroke-width="0.5" />
<text x="84.00" y="440.56" font-size="3.8" fill="#444">Ranking metric scores</text>
<text x="122.30" y="332.19" font-size="7.8" fill="#231f20" stroke="#231f20" stroke-width="0.14" text-anchor="end">NES: 2.36</text>
<text x="122.30" y="341.89" font-size="7.8" fill="#231f20" stroke="#231f20" stroke-width="0.14" text-anchor="end"><tspan font-style="italic">P</tspan>&#8201;&lt;&#8201;.001</text>
<text x="24.70" y="364.92" font-size="7.6" fill="#231f20" stroke="#231f20" stroke-width="0.14">72hours CT</text>
<text x="103.60" y="397.89" font-size="7.8" fill="#231f20" stroke="#231f20" stroke-width="0.14" text-anchor="middle">DMSO</text>
<text transform="translate(12.28 344.95) rotate(-90) scale(0.72 1)" font-size="6.1" fill="#231f20" stroke="#231f20" stroke-width="0.06" text-anchor="middle">Enrichment score (ES)</text>
<text transform="translate(9.83 404.20) rotate(-90) scale(0.76 1)" font-size="5.1" fill="#231f20" stroke="#231f20" stroke-width="0.06" text-anchor="middle">Ranked list metric</text>
<text transform="translate(14.73 404.20) rotate(-90) scale(0.76 1)" font-size="5.1" fill="#231f20" stroke="#231f20" stroke-width="0.06" text-anchor="middle">(Signal2Noise)</text>
<text x="210.00" y="311.85" font-size="8.8" fill="#231f20" stroke="#231f20" stroke-width="0.14" text-anchor="middle">Enriched in p53 pathway</text>
<text x="211" y="320.20" font-size="3.9" fill="#4a4a4a" text-anchor="middle" textLength="83" lengthAdjust="spacingAndGlyphs">Enrichment plot: HALLMARK_P53_PATHWAY</text>
<rect x="160.30" y="322.60" width="101.40" height="46.10" fill="#fff" stroke="#a6a6a6" stroke-width="0.4"/>
<line x1="160.30" y1="366.35" x2="261.70" y2="366.35" stroke="#d0d0d0" stroke-width="0.3" stroke-dasharray="0.8 0.8"/>
<text x="159.30" y="367.67" font-size="3.7" fill="#333" text-anchor="end">−0.1</text>
<line x1="160.30" y1="359.40" x2="261.70" y2="359.40" stroke="#d0d0d0" stroke-width="0.3" stroke-dasharray="0.8 0.8"/>
<text x="159.30" y="360.72" font-size="3.7" fill="#333" text-anchor="end">0.0</text>
<line x1="160.30" y1="352.45" x2="261.70" y2="352.45" stroke="#d0d0d0" stroke-width="0.3" stroke-dasharray="0.8 0.8"/>
<text x="159.30" y="353.77" font-size="3.7" fill="#333" text-anchor="end">0.1</text>
<line x1="160.30" y1="345.50" x2="261.70" y2="345.50" stroke="#d0d0d0" stroke-width="0.3" stroke-dasharray="0.8 0.8"/>
<text x="159.30" y="346.82" font-size="3.7" fill="#333" text-anchor="end">0.2</text>
<line x1="160.30" y1="338.55" x2="261.70" y2="338.55" stroke="#d0d0d0" stroke-width="0.3" stroke-dasharray="0.8 0.8"/>
<text x="159.30" y="339.87" font-size="3.7" fill="#333" text-anchor="end">0.3</text>
<line x1="160.30" y1="331.60" x2="261.70" y2="331.60" stroke="#d0d0d0" stroke-width="0.3" stroke-dasharray="0.8 0.8"/>
<text x="159.30" y="332.92" font-size="3.7" fill="#333" text-anchor="end">0.4</text>
<line x1="160.30" y1="324.65" x2="261.70" y2="324.65" stroke="#d0d0d0" stroke-width="0.3" stroke-dasharray="0.8 0.8"/>
<text x="159.30" y="325.97" font-size="3.7" fill="#333" text-anchor="end">0.5</text>
<line x1="180.26" y1="322.60" x2="180.26" y2="368.70" stroke="#d0d0d0" stroke-width="0.3" stroke-dasharray="0.8 0.8"/>
<line x1="200.22" y1="322.60" x2="200.22" y2="368.70" stroke="#d0d0d0" stroke-width="0.3" stroke-dasharray="0.8 0.8"/>
<line x1="220.18" y1="322.60" x2="220.18" y2="368.70" stroke="#d0d0d0" stroke-width="0.3" stroke-dasharray="0.8 0.8"/>
<line x1="240.14" y1="322.60" x2="240.14" y2="368.70" stroke="#d0d0d0" stroke-width="0.3" stroke-dasharray="0.8 0.8"/>
<line x1="260.10" y1="322.60" x2="260.10" y2="368.70" stroke="#d0d0d0" stroke-width="0.3" stroke-dasharray="0.8 0.8"/>
<line x1="160.30" y1="359.40" x2="261.70" y2="359.40" stroke="#666" stroke-width="0.5" />
<path d="M160.4,359.4 L160.9,351 C161.6,344 162.6,339.5 163.7,336.5 C165,332.5 166.5,330 167.6,328.7 C169.5,326.6 171.5,325.6 172.8,325.4 L174.7,326.8 C176,326.2 177,326.1 178,326.2 C182,327.4 186,330.4 189.7,333.9 C196,338.8 202,343 207.9,346.9 C215,351.8 221,355.6 227.4,359.4 C231,361.6 234,363.4 236.4,364.6 C239.5,366.3 242,367.1 244.2,367.2 C247,367 250,366 252,365.1 C253.6,364.4 255,363.8 255.9,363 L256.5,359" fill="none" stroke="#5dae41" stroke-width="0.7" stroke-linejoin="round"/>
<g fill="#080808">
<rect x="160.30" y="370.0" width="24.10" height="14.60"/>
<rect x="186.50" y="370.0" width="0.60" height="14.60"/>
<rect x="189.15" y="370.0" width="0.50" height="14.60"/>
<rect x="192.00" y="370.0" width="0.60" height="14.60"/>
<rect x="195.00" y="370.0" width="0.60" height="14.60"/>
<rect x="197.65" y="370.0" width="0.50" height="14.60"/>
<rect x="200.00" y="370.0" width="0.60" height="14.60"/>
<rect x="203.30" y="370.0" width="0.60" height="14.60"/>
<rect x="205.65" y="370.0" width="0.50" height="14.60"/>
<rect x="216.10" y="370.0" width="0.60" height="14.60"/>
<rect x="218.70" y="370.0" width="1.27" height="14.60"/>
<rect x="220.16" y="370.0" width="0.80" height="14.60"/>
<rect x="221.25" y="370.0" width="0.61" height="14.60"/>
<rect x="222.08" y="370.0" width="1.89" height="14.60"/>
<rect x="224.11" y="370.0" width="1.40" height="14.60"/>
<rect x="225.76" y="370.0" width="0.66" height="14.60"/>
<rect x="226.61" y="370.0" width="1.61" height="14.60"/>
<rect x="228.43" y="370.0" width="1.64" height="14.60"/>
<rect x="230.23" y="370.0" width="0.94" height="14.60"/>
<rect x="231.31" y="370.0" width="1.33" height="14.60"/>
<rect x="232.95" y="370.0" width="1.45" height="14.60"/>
<rect x="234.67" y="370.0" width="1.15" height="14.60"/>
<rect x="236.09" y="370.0" width="0.75" height="14.60"/>
<rect x="237.02" y="370.0" width="1.57" height="14.60"/>
<rect x="238.86" y="370.0" width="1.21" height="14.60"/>
<rect x="240.20" y="370.0" width="0.98" height="14.60"/>
<rect x="241.35" y="370.0" width="1.00" height="14.60"/>
<rect x="242.63" y="370.0" width="0.89" height="14.60"/>
<rect x="243.82" y="370.0" width="1.87" height="14.60"/>
<rect x="245.81" y="370.0" width="1.15" height="14.60"/>
<rect x="247.18" y="370.0" width="0.63" height="14.60"/>
<rect x="248.02" y="370.0" width="0.98" height="14.60"/>
<rect x="249.00" y="370.0" width="1.09" height="14.60"/>
<rect x="250.35" y="370.0" width="1.07" height="14.60"/>
<rect x="251.95" y="370.0" width="0.67" height="14.60"/>
<rect x="252.83" y="370.0" width="0.54" height="14.60"/>
<rect x="253.77" y="370.0" width="0.47" height="14.60"/>
<rect x="254.48" y="370.0" width="0.99" height="14.60"/>
<rect x="255.99" y="370.0" width="0.81" height="14.60"/>
</g>
<g fill="#fff">
<rect x="163.45" y="370.0" width="0.30" height="14.60" opacity="0.8"/>
<rect x="166.02" y="370.0" width="0.35" height="14.60" opacity="0.8"/>
<rect x="168.65" y="370.0" width="0.30" height="14.60" opacity="0.8"/>
<rect x="170.80" y="370.0" width="0.40" height="14.60" opacity="0.8"/>
<rect x="173.22" y="370.0" width="0.35" height="14.60" opacity="0.8"/>
<rect x="175.40" y="370.0" width="0.40" height="14.60" opacity="0.8"/>
<rect x="177.42" y="370.0" width="0.35" height="14.60" opacity="0.8"/>
<rect x="179.28" y="370.0" width="0.45" height="14.60" opacity="0.8"/>
<rect x="181.00" y="370.0" width="0.40" height="14.60" opacity="0.8"/>
<rect x="182.68" y="370.0" width="0.45" height="14.60" opacity="0.8"/>
</g>
<rect x="256.90" y="384.60" width="4.80" height="3.70" fill="#eeeefa" />
<rect x="160.30" y="384.60" width="96.60" height="3.70" fill="url(#cbar2)" />
<rect x="160.30" y="388.30" width="101.40" height="31.50" fill="#fff" stroke="#a6a6a6" stroke-width="0.4"/>
<line x1="160.30" y1="391.70" x2="261.70" y2="391.70" stroke="#d0d0d0" stroke-width="0.3" stroke-dasharray="0.8 0.8"/>
<text x="159.30" y="393.02" font-size="3.7" fill="#333" text-anchor="end">4</text>
<line x1="160.30" y1="397.50" x2="261.70" y2="397.50" stroke="#d0d0d0" stroke-width="0.3" stroke-dasharray="0.8 0.8"/>
<text x="159.30" y="398.82" font-size="3.7" fill="#333" text-anchor="end">2</text>
<line x1="160.30" y1="403.30" x2="261.70" y2="403.30" stroke="#d0d0d0" stroke-width="0.3" stroke-dasharray="0.8 0.8"/>
<text x="159.30" y="404.62" font-size="3.7" fill="#333" text-anchor="end">0</text>
<line x1="160.30" y1="409.10" x2="261.70" y2="409.10" stroke="#d0d0d0" stroke-width="0.3" stroke-dasharray="0.8 0.8"/>
<text x="159.30" y="410.42" font-size="3.7" fill="#333" text-anchor="end">−2</text>
<line x1="160.30" y1="414.90" x2="261.70" y2="414.90" stroke="#d0d0d0" stroke-width="0.3" stroke-dasharray="0.8 0.8"/>
<text x="159.30" y="416.22" font-size="3.7" fill="#333" text-anchor="end">−4</text>
<line x1="180.26" y1="388.30" x2="180.26" y2="419.80" stroke="#d0d0d0" stroke-width="0.3" stroke-dasharray="0.8 0.8"/>
<line x1="200.22" y1="388.30" x2="200.22" y2="419.80" stroke="#d0d0d0" stroke-width="0.3" stroke-dasharray="0.8 0.8"/>
<line x1="220.18" y1="388.30" x2="220.18" y2="419.80" stroke="#d0d0d0" stroke-width="0.3" stroke-dasharray="0.8 0.8"/>
<line x1="240.14" y1="388.30" x2="240.14" y2="419.80" stroke="#d0d0d0" stroke-width="0.3" stroke-dasharray="0.8 0.8"/>
<line x1="260.10" y1="388.30" x2="260.10" y2="419.80" stroke="#d0d0d0" stroke-width="0.3" stroke-dasharray="0.8 0.8"/>
<path d="M160.3,403.3 L160.3,394.0 C161.1,399.6 164.3,401.4 172.3,402.3 L189.4,403.2 L247.9,403.9 C253.9,404.4 255.7,406.2 256.6,414.8 L256.9,403.3 Z" fill="#bcbcbc"/>
<line x1="160.30" y1="403.30" x2="256.90" y2="403.30" stroke="#bcbcbc" stroke-width="0.35" />
<line x1="189.40" y1="389.50" x2="189.40" y2="419.00" stroke="#555" stroke-width="0.45" stroke-dasharray="1.5 1.1"/>
<text x="162.8" y="391.1" font-size="2.5" fill="#e35" opacity="0.6" textLength="31" lengthAdjust="spacingAndGlyphs">72h_CT (positively correlated)</text>
<text x="190.4" y="393.8" font-size="2.3" fill="#888" textLength="14" lengthAdjust="spacingAndGlyphs">Zero cross at 7384</text>
<text x="252.9" y="417.9" font-size="2.5" fill="#55a" text-anchor="end" textLength="36" lengthAdjust="spacingAndGlyphs">DMSO_72 (negatively correlated)</text>
<text x="160.80" y="424.56" font-size="3.8" fill="#333" text-anchor="middle">0</text>
<text x="180.76" y="424.56" font-size="3.8" fill="#333" text-anchor="middle">5,000</text>
<text x="200.72" y="424.56" font-size="3.8" fill="#333" text-anchor="middle">10,000</text>
<text x="220.68" y="424.56" font-size="3.8" fill="#333" text-anchor="middle">15,000</text>
<text x="240.64" y="424.56" font-size="3.8" fill="#333" text-anchor="middle">20,000</text>
<text x="260.60" y="424.56" font-size="3.8" fill="#333" text-anchor="middle">25,000</text>
<text transform="translate(211.30 432.71) scale(0.7 1)" font-size="5.9" fill="#333" stroke="#333" stroke-width="0.084" text-anchor="middle" font-weight="bold">Rank in ordered dataset</text>
<line x1="161.30" y1="439.20" x2="164.30" y2="439.20" stroke="#62b34a" stroke-width="0.5" />
<text x="166.50" y="440.56" font-size="3.8" fill="#444">Enrichment profile</text>
<line x1="200.30" y1="439.20" x2="203.30" y2="439.20" stroke="#111" stroke-width="0.7" />
<text x="205.30" y="440.56" font-size="3.8" fill="#444">Hits</text>
<line x1="215.80" y1="439.20" x2="218.80" y2="439.20" stroke="#aaa" stroke-width="0.5" />
<text x="221.30" y="440.56" font-size="3.8" fill="#444">Ranking metric scores</text>
<text x="257.70" y="332.19" font-size="7.8" fill="#231f20" stroke="#231f20" stroke-width="0.14" text-anchor="end">NES: 1.56</text>
<text x="257.70" y="341.89" font-size="7.8" fill="#231f20" stroke="#231f20" stroke-width="0.14" text-anchor="end"><tspan font-style="italic">P</tspan>&#8201;&lt;&#8201;.001</text>
<text x="162.70" y="367.12" font-size="7.6" fill="#231f20" stroke="#231f20" stroke-width="0.14">72hours CT</text>
<text x="242.30" y="397.89" font-size="7.8" fill="#231f20" stroke="#231f20" stroke-width="0.14" text-anchor="middle">DMSO</text>
<text transform="translate(149.58 345.65) rotate(-90) scale(0.72 1)" font-size="6.1" fill="#231f20" stroke="#231f20" stroke-width="0.06" text-anchor="middle">Enrichment score (ES)</text>
<text transform="translate(147.13 404.20) rotate(-90) scale(0.76 1)" font-size="5.1" fill="#231f20" stroke="#231f20" stroke-width="0.06" text-anchor="middle">Ranked list metric</text>
<text transform="translate(152.03 404.20) rotate(-90) scale(0.76 1)" font-size="5.1" fill="#231f20" stroke="#231f20" stroke-width="0.06" text-anchor="middle">(Signal2Noise)</text>
</g>
<g id="panelE">
<text x="281.00" y="306.34" font-size="11" fill="#000" stroke="#000" stroke-width="0.084" font-weight="bold">E</text>
<line x1="316.40" y1="312.00" x2="316.40" y2="412.40" stroke="#231f20" stroke-width="0.9" />
<line x1="315.95" y1="412.40" x2="503.80" y2="412.40" stroke="#231f20" stroke-width="0.9" />
<line x1="313.20" y1="314.90" x2="316.40" y2="314.90" stroke="#231f20" stroke-width="0.8" />
<text x="309.70" y="317.58" font-size="7.5" fill="#231f20" stroke="#231f20" stroke-width="0.14" text-anchor="end">1.25</text>
<line x1="313.20" y1="334.40" x2="316.40" y2="334.40" stroke="#231f20" stroke-width="0.8" />
<text x="309.70" y="337.08" font-size="7.5" fill="#231f20" stroke="#231f20" stroke-width="0.14" text-anchor="end">1.00</text>
<line x1="313.20" y1="353.90" x2="316.40" y2="353.90" stroke="#231f20" stroke-width="0.8" />
<text x="309.70" y="356.58" font-size="7.5" fill="#231f20" stroke="#231f20" stroke-width="0.14" text-anchor="end">0.75</text>
<line x1="313.20" y1="373.40" x2="316.40" y2="373.40" stroke="#231f20" stroke-width="0.8" />
<text x="309.70" y="376.08" font-size="7.5" fill="#231f20" stroke="#231f20" stroke-width="0.14" text-anchor="end">0.50</text>
<line x1="313.20" y1="392.90" x2="316.40" y2="392.90" stroke="#231f20" stroke-width="0.8" />
<text x="309.70" y="395.58" font-size="7.5" fill="#231f20" stroke="#231f20" stroke-width="0.14" text-anchor="end">0.25</text>
<line x1="313.20" y1="412.40" x2="316.40" y2="412.40" stroke="#231f20" stroke-width="0.8" />
<text x="309.70" y="415.08" font-size="7.5" fill="#231f20" stroke="#231f20" stroke-width="0.14" text-anchor="end">0</text>
<text transform="translate(287.28 362.00) rotate(-90) scale(0.72 1)" font-size="8.6" fill="#231f20" stroke="#231f20" stroke-width="0.3" text-anchor="middle">Expression FC</text>
<line x1="339.90" y1="312.00" x2="339.90" y2="412.40" stroke="#c9c9c9" stroke-width="0.6" />
<rect x="319.50" y="334.40" width="6.00" height="78.00" fill="#a3a5ae" />
<line x1="322.50" y1="334.40" x2="322.50" y2="327.38" stroke="#58595b" stroke-width="0.8" />
<line x1="321.00" y1="327.38" x2="324.00" y2="327.38" stroke="#58595b" stroke-width="0.8" />
<rect x="329.50" y="394.85" width="6.00" height="17.55" fill="#c8102e" />
<line x1="332.50" y1="394.85" x2="332.50" y2="392.12" stroke="#58595b" stroke-width="0.8" />
<line x1="331.00" y1="392.12" x2="334.00" y2="392.12" stroke="#58595b" stroke-width="0.8" />
<rect x="345.00" y="334.40" width="6.00" height="78.00" fill="#4b5466" />
<line x1="348.00" y1="334.40" x2="348.00" y2="316.07" stroke="#58595b" stroke-width="0.8" />
<line x1="346.50" y1="316.07" x2="349.50" y2="316.07" stroke="#58595b" stroke-width="0.8" />
<rect x="355.00" y="328.55" width="6.00" height="83.85" fill="#3fa8e1" />
<line x1="358.00" y1="328.55" x2="358.00" y2="317.24" stroke="#58595b" stroke-width="0.8" />
<line x1="356.50" y1="317.24" x2="359.50" y2="317.24" stroke="#58595b" stroke-width="0.8" />
<rect x="364.50" y="401.09" width="6.00" height="11.31" fill="#1c4a86" />
<line x1="367.50" y1="401.09" x2="367.50" y2="399.14" stroke="#58595b" stroke-width="0.8" />
<line x1="366.00" y1="399.14" x2="369.00" y2="399.14" stroke="#58595b" stroke-width="0.8" />
<text x="332.50" y="391.03" font-size="7" fill="#231f20" stroke="#231f20" stroke-width="0.14" text-anchor="middle">**</text>
<text x="367.50" y="398.25" font-size="7" fill="#231f20" stroke="#231f20" stroke-width="0.14" text-anchor="middle">***</text>
<text x="357.60" y="314.54" font-size="7.1" fill="#231f20" stroke="#231f20" stroke-width="0.14" text-anchor="middle">ns</text>
<line x1="401.80" y1="312.00" x2="401.80" y2="412.40" stroke="#c9c9c9" stroke-width="0.6" />
<rect x="381.90" y="334.40" width="6.00" height="78.00" fill="#a3a5ae" />
<line x1="384.90" y1="334.40" x2="384.90" y2="324.26" stroke="#58595b" stroke-width="0.8" />
<line x1="383.40" y1="324.26" x2="386.40" y2="324.26" stroke="#58595b" stroke-width="0.8" />
<rect x="391.80" y="398.36" width="6.00" height="14.04" fill="#c8102e" />
<line x1="394.80" y1="398.36" x2="394.80" y2="395.63" stroke="#58595b" stroke-width="0.8" />
<line x1="393.30" y1="395.63" x2="396.30" y2="395.63" stroke="#58595b" stroke-width="0.8" />
<rect x="406.20" y="334.40" width="6.00" height="78.00" fill="#4b5466" />
<line x1="409.20" y1="334.40" x2="409.20" y2="327.77" stroke="#58595b" stroke-width="0.8" />
<line x1="407.70" y1="327.77" x2="410.70" y2="327.77" stroke="#58595b" stroke-width="0.8" />
<rect x="416.20" y="344.93" width="6.00" height="67.47" fill="#3fa8e1" />
<line x1="419.20" y1="344.93" x2="419.20" y2="336.35" stroke="#58595b" stroke-width="0.8" />
<line x1="417.70" y1="336.35" x2="420.70" y2="336.35" stroke="#58595b" stroke-width="0.8" />
<rect x="426.20" y="404.60" width="6.00" height="7.80" fill="#1c4a86" />
<line x1="429.20" y1="404.60" x2="429.20" y2="403.66" stroke="#58595b" stroke-width="0.8" />
<line x1="427.70" y1="403.66" x2="430.70" y2="403.66" stroke="#58595b" stroke-width="0.8" />
<text x="394.80" y="394.54" font-size="7" fill="#231f20" stroke="#231f20" stroke-width="0.14" text-anchor="middle">**</text>
<text x="429.20" y="402.77" font-size="7" fill="#231f20" stroke="#231f20" stroke-width="0.14" text-anchor="middle">***</text>
<text x="418.80" y="333.34" font-size="7.1" fill="#231f20" stroke="#231f20" stroke-width="0.14" text-anchor="middle">ns</text>
<line x1="463.30" y1="312.00" x2="463.30" y2="412.40" stroke="#c9c9c9" stroke-width="0.6" />
<rect x="443.90" y="334.40" width="6.00" height="78.00" fill="#a3a5ae" />
<line x1="446.90" y1="334.40" x2="446.90" y2="327.77" stroke="#58595b" stroke-width="0.8" />
<line x1="445.40" y1="327.77" x2="448.40" y2="327.77" stroke="#58595b" stroke-width="0.8" />
<rect x="453.80" y="396.80" width="6.00" height="15.60" fill="#c8102e" />
<line x1="456.80" y1="396.80" x2="456.80" y2="394.46" stroke="#58595b" stroke-width="0.8" />
<line x1="455.30" y1="394.46" x2="458.30" y2="394.46" stroke="#58595b" stroke-width="0.8" />
<rect x="467.60" y="334.40" width="6.00" height="78.00" fill="#4b5466" />
<line x1="470.60" y1="334.40" x2="470.60" y2="313.34" stroke="#58595b" stroke-width="0.8" />
<line x1="469.10" y1="313.34" x2="472.10" y2="313.34" stroke="#58595b" stroke-width="0.8" />
<rect x="477.00" y="364.04" width="6.00" height="48.36" fill="#3fa8e1" />
<line x1="480.00" y1="364.04" x2="480.00" y2="352.73" stroke="#58595b" stroke-width="0.8" />
<line x1="478.50" y1="352.73" x2="481.50" y2="352.73" stroke="#58595b" stroke-width="0.8" />
<rect x="487.00" y="406.55" width="6.00" height="5.85" fill="#1c4a86" />
<line x1="490.00" y1="406.55" x2="490.00" y2="405.61" stroke="#58595b" stroke-width="0.8" />
<line x1="488.50" y1="405.61" x2="491.50" y2="405.61" stroke="#58595b" stroke-width="0.8" />
<text x="456.80" y="393.37" font-size="7" fill="#231f20" stroke="#231f20" stroke-width="0.14" text-anchor="middle">**</text>
<text x="490.00" y="404.72" font-size="7" fill="#231f20" stroke="#231f20" stroke-width="0.14" text-anchor="middle">***</text>
<text x="479.60" y="350.54" font-size="7.1" fill="#231f20" stroke="#231f20" stroke-width="0.14" text-anchor="middle">ns</text>
<line x1="375.60" y1="412.40" x2="375.60" y2="423.00" stroke="#231f20" stroke-width="0.8" />
<line x1="436.50" y1="412.40" x2="436.50" y2="423.00" stroke="#231f20" stroke-width="0.8" />
<text x="325.80" y="422.38" font-size="7.2" fill="#231f20" stroke="#231f20" stroke-width="0.14" text-anchor="middle">24hours</text>
<text x="357.50" y="422.38" font-size="7.2" fill="#231f20" stroke="#231f20" stroke-width="0.14" text-anchor="middle">72hours</text>
<text x="389.80" y="422.38" font-size="7.2" fill="#231f20" stroke="#231f20" stroke-width="0.14" text-anchor="middle">24hours</text>
<text x="422.20" y="422.38" font-size="7.2" fill="#231f20" stroke="#231f20" stroke-width="0.14" text-anchor="middle">72hours</text>
<text x="452.20" y="422.38" font-size="7.2" fill="#231f20" stroke="#231f20" stroke-width="0.14" text-anchor="middle">24hours</text>
<text x="485.70" y="422.38" font-size="7.2" fill="#231f20" stroke="#231f20" stroke-width="0.14" text-anchor="middle">72hours</text>
<text x="341.90" y="433.79" font-size="7.8" fill="#231f20" stroke="#231f20" stroke-width="0.14" text-anchor="middle">HOXA9</text>
<text x="399.40" y="433.79" font-size="7.8" fill="#231f20" stroke="#231f20" stroke-width="0.14" text-anchor="middle">HOXA10</text>
<text x="463.50" y="433.79" font-size="7.8" fill="#231f20" stroke="#231f20" stroke-width="0.14" text-anchor="middle">MEIS1</text>
<text x="313.00" y="454.18" font-size="7.2" fill="#231f20" stroke="#231f20" stroke-width="0.14">24hours</text>
<line x1="342.30" y1="442.30" x2="342.30" y2="460.50" stroke="#9a9a9a" stroke-width="0.9" />
<rect x="346.50" y="442.20" width="7.40" height="7.40" fill="#a3a5ae" />
<text x="358.40" y="448.69" font-size="7.8" fill="#231f20" stroke="#231f20" stroke-width="0.14">DMSO</text>
<rect x="346.50" y="452.80" width="7.40" height="7.40" fill="#c8102e" />
<text x="358.40" y="459.29" font-size="7.8" fill="#231f20" stroke="#231f20" stroke-width="0.14">dTAG-13</text>
<text x="398.30" y="453.38" font-size="7.2" fill="#231f20" stroke="#231f20" stroke-width="0.14">72hours</text>
<line x1="427.00" y1="438.00" x2="427.00" y2="469.00" stroke="#9a9a9a" stroke-width="0.9" />
<rect x="431.00" y="439.20" width="7.40" height="7.40" fill="#4b5466" />
<text x="441.90" y="445.39" font-size="7.8" fill="#231f20" stroke="#231f20" stroke-width="0.14">DMSO</text>
<rect x="431.00" y="449.80" width="7.40" height="7.40" fill="#3fa8e1" />
<text x="441.90" y="456.39" font-size="7.8" fill="#231f20" stroke="#231f20" stroke-width="0.14">dTAG-13 ST</text>
<rect x="431.00" y="460.40" width="7.40" height="7.40" fill="#1c4a86" />
<text x="441.90" y="467.09" font-size="7.8" fill="#231f20" stroke="#231f20" stroke-width="0.14">dTAG-13 CT</text>
</g>
<g id="panelF">
<text x="-0.20" y="488.84" font-size="11" fill="#000" stroke="#000" stroke-width="0.084" font-weight="bold">F</text>
<line x1="34.60" y1="504.00" x2="34.60" y2="602.20" stroke="#231f20" stroke-width="0.9" />
<line x1="34.15" y1="602.20" x2="96.30" y2="602.20" stroke="#231f20" stroke-width="0.9" />
<line x1="31.40" y1="602.20" x2="34.60" y2="602.20" stroke="#231f20" stroke-width="0.8" />
<text x="29.80" y="605.06" font-size="8" fill="#231f20" stroke="#231f20" stroke-width="0.14" text-anchor="end">0</text>
<line x1="31.40" y1="570.60" x2="34.60" y2="570.60" stroke="#231f20" stroke-width="0.8" />
<text x="29.80" y="573.46" font-size="8" fill="#231f20" stroke="#231f20" stroke-width="0.14" text-anchor="end">1</text>
<line x1="31.40" y1="539.00" x2="34.60" y2="539.00" stroke="#231f20" stroke-width="0.8" />
<text x="29.80" y="541.86" font-size="8" fill="#231f20" stroke="#231f20" stroke-width="0.14" text-anchor="end">2</text>
<line x1="31.40" y1="507.40" x2="34.60" y2="507.40" stroke="#231f20" stroke-width="0.8" />
<text x="29.80" y="510.26" font-size="8" fill="#231f20" stroke="#231f20" stroke-width="0.14" text-anchor="end">3</text>
<text transform="translate(19.97 554.90) rotate(-90) scale(0.665 1)" font-size="9.4" fill="#231f20" stroke="#231f20" stroke-width="0.084" text-anchor="middle" font-weight="bold">CD11b (MFI) FC (ratio to DMSO)</text>
<rect x="40.80" y="570.60" width="12.00" height="31.60" fill="#4b5466" />
<rect x="59.60" y="558.28" width="12.00" height="43.92" fill="#3fa8e1" />
<rect x="78.00" y="529.52" width="12.00" height="72.68" fill="#1c4a86" />
<line x1="65.60" y1="548.90" x2="65.60" y2="565.20" stroke="#111" stroke-width="0.9" />
<line x1="62.90" y1="548.90" x2="68.30" y2="548.90" stroke="#111" stroke-width="0.9" />
<line x1="62.90" y1="565.20" x2="68.30" y2="565.20" stroke="#111" stroke-width="0.9" />
<line x1="84.00" y1="516.70" x2="84.00" y2="541.00" stroke="#111" stroke-width="0.9" />
<line x1="81.30" y1="516.70" x2="86.70" y2="516.70" stroke="#111" stroke-width="0.9" />
<line x1="81.30" y1="541.00" x2="86.70" y2="541.00" stroke="#111" stroke-width="0.9" />
<circle cx="42.60" cy="570.70" r="1.3" fill="#0a0a0a" />
<circle cx="45.40" cy="570.70" r="1.3" fill="#0a0a0a" />
<circle cx="48.20" cy="570.70" r="1.3" fill="#0a0a0a" />
<circle cx="51.00" cy="570.70" r="1.3" fill="#0a0a0a" />
<circle cx="65.00" cy="547.90" r="1.3" fill="#0a0a0a" />
<circle cx="64.00" cy="554.00" r="1.3" fill="#0a0a0a" />
<circle cx="68.50" cy="556.50" r="1.3" fill="#0a0a0a" />
<circle cx="67.50" cy="561.70" r="1.3" fill="#0a0a0a" />
<circle cx="83.80" cy="512.20" r="1.3" fill="#0a0a0a" />
<circle cx="81.30" cy="529.50" r="1.3" fill="#0a0a0a" />
<circle cx="86.50" cy="529.50" r="1.3" fill="#0a0a0a" />
<circle cx="84.00" cy="534.70" r="1.3" fill="#0a0a0a" />
<text x="55.20" y="538.98" font-size="7.2" fill="#231f20" stroke="#231f20" stroke-width="0.14" text-anchor="middle">ns</text>
<line x1="46.70" y1="540.30" x2="65.00" y2="540.30" stroke="#231f20" stroke-width="0.8" />
<text x="73.40" y="506.72" font-size="7.6" fill="#231f20" stroke="#231f20" stroke-width="0.14" text-anchor="middle"><tspan font-style="italic">P</tspan> = .001</text>
<line x1="65.00" y1="509.20" x2="84.80" y2="509.20" stroke="#231f20" stroke-width="0.8" />
<text x="64.50" y="491.12" font-size="7.6" fill="#231f20" stroke="#231f20" stroke-width="0.14" text-anchor="middle"><tspan font-style="italic">P</tspan> &lt; .0001</text>
<line x1="46.70" y1="494.20" x2="84.80" y2="494.20" stroke="#231f20" stroke-width="0.8" />
<line x1="46.80" y1="602.20" x2="46.80" y2="605.20" stroke="#231f20" stroke-width="0.8" />
<line x1="65.60" y1="602.20" x2="65.60" y2="605.20" stroke="#231f20" stroke-width="0.8" />
<line x1="84.00" y1="602.20" x2="84.00" y2="605.20" stroke="#231f20" stroke-width="0.8" />
<text transform="translate(49.6 611.6) rotate(-45)" font-size="7.7" text-anchor="end" fill="#231f20" stroke="#231f20" stroke-width="0.15">DMSO</text>
<text transform="translate(68.6 611.6) rotate(-45)" font-size="7.7" text-anchor="end" fill="#231f20" stroke="#231f20" stroke-width="0.15">dTAG-13 2d/w</text>
<text transform="translate(87.4 611.6) rotate(-45)" font-size="7.7" text-anchor="end" fill="#231f20" stroke="#231f20" stroke-width="0.15">dTAG-13 5d/w</text>
</g>
<g id="panelG">
<text x="118.60" y="488.84" font-size="11" fill="#000" stroke="#000" stroke-width="0.084" font-weight="bold">G</text>
<text x="200.50" y="490.46" font-size="9.1" fill="#231f20" stroke="#231f20" stroke-width="0.14" text-anchor="middle">Gate: live single cells</text>
<rect x="144.6" y="496.0" width="106.20" height="110.20" fill="none" stroke="#111" stroke-width="1.15"/>
<line x1="144.60" y1="500.40" x2="146.80" y2="500.40" stroke="#111" stroke-width="0.5" />
<line x1="144.60" y1="521.45" x2="146.80" y2="521.45" stroke="#111" stroke-width="0.5" />
<line x1="144.60" y1="542.50" x2="146.80" y2="542.50" stroke="#111" stroke-width="0.5" />
<line x1="144.60" y1="563.55" x2="146.80" y2="563.55" stroke="#111" stroke-width="0.5" />
<line x1="144.60" y1="584.60" x2="146.80" y2="584.60" stroke="#111" stroke-width="0.5" />
<line x1="152.60" y1="606.20" x2="152.60" y2="604.20" stroke="#111" stroke-width="0.4" />
<line x1="160.28" y1="606.20" x2="160.28" y2="605.10" stroke="#111" stroke-width="0.4" />
<line x1="164.77" y1="606.20" x2="164.77" y2="605.10" stroke="#111" stroke-width="0.4" />
<line x1="167.95" y1="606.20" x2="167.95" y2="605.10" stroke="#111" stroke-width="0.4" />
<line x1="170.42" y1="606.20" x2="170.42" y2="605.10" stroke="#111" stroke-width="0.4" />
<line x1="172.44" y1="606.20" x2="172.44" y2="605.10" stroke="#111" stroke-width="0.4" />
<line x1="174.15" y1="606.20" x2="174.15" y2="605.10" stroke="#111" stroke-width="0.4" />
<line x1="175.63" y1="606.20" x2="175.63" y2="605.10" stroke="#111" stroke-width="0.4" />
<line x1="176.93" y1="606.20" x2="176.93" y2="605.10" stroke="#111" stroke-width="0.4" />
<line x1="178.10" y1="606.20" x2="178.10" y2="604.20" stroke="#111" stroke-width="0.4" />
<line x1="185.78" y1="606.20" x2="185.78" y2="605.10" stroke="#111" stroke-width="0.4" />
<line x1="190.27" y1="606.20" x2="190.27" y2="605.10" stroke="#111" stroke-width="0.4" />
<line x1="193.45" y1="606.20" x2="193.45" y2="605.10" stroke="#111" stroke-width="0.4" />
<line x1="195.92" y1="606.20" x2="195.92" y2="605.10" stroke="#111" stroke-width="0.4" />
<line x1="197.94" y1="606.20" x2="197.94" y2="605.10" stroke="#111" stroke-width="0.4" />
<line x1="199.65" y1="606.20" x2="199.65" y2="605.10" stroke="#111" stroke-width="0.4" />
<line x1="201.13" y1="606.20" x2="201.13" y2="605.10" stroke="#111" stroke-width="0.4" />
<line x1="202.43" y1="606.20" x2="202.43" y2="605.10" stroke="#111" stroke-width="0.4" />
<line x1="203.60" y1="606.20" x2="203.60" y2="604.20" stroke="#111" stroke-width="0.4" />
<line x1="211.28" y1="606.20" x2="211.28" y2="605.10" stroke="#111" stroke-width="0.4" />
<line x1="215.77" y1="606.20" x2="215.77" y2="605.10" stroke="#111" stroke-width="0.4" />
<line x1="218.95" y1="606.20" x2="218.95" y2="605.10" stroke="#111" stroke-width="0.4" />
<line x1="221.42" y1="606.20" x2="221.42" y2="605.10" stroke="#111" stroke-width="0.4" />
<line x1="223.44" y1="606.20" x2="223.44" y2="605.10" stroke="#111" stroke-width="0.4" />
<line x1="225.15" y1="606.20" x2="225.15" y2="605.10" stroke="#111" stroke-width="0.4" />
<line x1="226.63" y1="606.20" x2="226.63" y2="605.10" stroke="#111" stroke-width="0.4" />
<line x1="227.93" y1="606.20" x2="227.93" y2="605.10" stroke="#111" stroke-width="0.4" />
<line x1="229.10" y1="606.20" x2="229.10" y2="604.20" stroke="#111" stroke-width="0.4" />
<line x1="236.78" y1="606.20" x2="236.78" y2="605.10" stroke="#111" stroke-width="0.4" />
<line x1="241.27" y1="606.20" x2="241.27" y2="605.10" stroke="#111" stroke-width="0.4" />
<line x1="244.45" y1="606.20" x2="244.45" y2="605.10" stroke="#111" stroke-width="0.4" />
<line x1="246.92" y1="606.20" x2="246.92" y2="605.10" stroke="#111" stroke-width="0.4" />
<line x1="248.94" y1="606.20" x2="248.94" y2="605.10" stroke="#111" stroke-width="0.4" />
<line x1="137.40" y1="612.80" x2="137.40" y2="499.50" stroke="#111" stroke-width="0.8" />
<path d="M135.5,501 L137.4,496.5 L139.3,501 Z" fill="#111"/>
<line x1="137.00" y1="612.80" x2="254.80" y2="612.80" stroke="#111" stroke-width="0.8" />
<path d="M253.3,610.9 L257.8,612.8 L253.3,614.6999999999999 Z" fill="#111"/>
<text transform="translate(131.97 553.50) rotate(-90) scale(0.7 1)" font-size="9.4" fill="#231f20" stroke="#231f20" stroke-width="0.3" text-anchor="middle">Cell counts</text>
<text transform="translate(198.60 621.87) scale(0.64 1)" font-size="9.4" fill="#231f20" stroke="#231f20" stroke-width="0.3" text-anchor="middle">GFP</text>
<g clip-path="url(#clipboxG)" fill="none" stroke-width="0.7" stroke-linejoin="miter">
<path d="M190.7,605.6 L190.7,605.1 H191.5 V604.2 H192.3 V603.2 H193.1 V602.5 H193.9 V599.5 H194.7 V596.0 H195.5 V590.3 H196.3 V582.6 H197.1 V577.5 H197.9 V568.3 H198.7 V548.7 H199.5 V540.4 H200.3 V523.0 H201.1 V525.1 H201.9 V509.0 H202.7 V498.7 H203.5 V508.4 H204.3 V498.4 H205.1 V506.9 H205.9 V532.3 H206.7 V543.5 H207.5 V549.3 H208.3 V558.2 H209.1 V573.8 H209.9 V583.6 H210.7 V589.8 H211.5 V596.0 H212.3 V599.3 H213.1 V601.7 H213.9 V603.2 H214.7 V604.5 H215.5 V605.0 H216.3 V605.6" stroke="#6a6e75"/>
<path d="M147.0,605.6 L147.0,605.6 H147.8 V605.6 H148.6 V605.6 H149.4 V605.5 H150.2 V605.4 H151.0 V605.4 H151.8 V605.3 H152.6 V605.2 H153.4 V605.0 H154.2 V604.7 H155.0 V604.4 H155.8 V604.4 H156.6 V603.6 H157.4 V603.1 H158.2 V601.7 H159.0 V599.9 H159.8 V599.6 H160.6 V598.6 H161.4 V597.0 H162.2 V595.2 H163.0 V593.4 H163.8 V590.6 H164.6 V585.4 H165.4 V581.8 H166.2 V576.6 H167.0 V567.3 H167.8 V563.5 H168.6 V556.2 H169.4 V552.4 H170.2 V548.0 H171.0 V536.9 H171.8 V532.9 H172.6 V520.4 H173.4 V505.9 H174.2 V507.1 H175.0 V513.5 H175.8 V498.4 H176.6 V499.8 H177.4 V502.8 H178.2 V502.9 H179.0 V510.5 H179.8 V516.2 H180.6 V530.1 H181.4 V528.5 H182.2 V537.2 H183.0 V554.5 H183.8 V556.0 H184.6 V563.9 H185.4 V572.6 H186.2 V578.2 H187.0 V583.7 H187.8 V586.7 H188.6 V592.1 H189.4 V594.5 H190.2 V598.0 H191.0 V599.4 H191.8 V600.4 H192.6 V602.6 H193.4 V603.4 H194.2 V603.7 H195.0 V604.5 H195.8 V604.9 H196.6 V605.6" stroke="#1c4a86"/>
<path d="M149.0,605.6 L149.0,605.6 H149.8 V605.6 H150.6 V605.6 H151.4 V605.5 H152.2 V605.5 H153.0 V605.5 H153.8 V605.3 H154.6 V605.2 H155.4 V605.0 H156.2 V605.0 H157.0 V604.6 H157.8 V604.4 H158.6 V604.1 H159.4 V603.6 H160.2 V602.7 H161.0 V599.9 H161.8 V599.2 H162.6 V597.3 H163.4 V594.8 H164.2 V593.4 H165.0 V589.7 H165.8 V584.4 H166.6 V578.8 H167.4 V572.1 H168.2 V565.0 H169.0 V564.5 H169.8 V552.0 H170.6 V543.0 H171.4 V536.9 H172.2 V533.9 H173.0 V522.0 H173.8 V522.4 H174.6 V501.1 H175.4 V498.4 H176.2 V502.1 H177.0 V506.5 H177.8 V498.4 H178.6 V505.1 H179.4 V503.8 H180.2 V510.8 H181.0 V523.8 H181.8 V533.0 H182.6 V538.6 H183.4 V549.1 H184.2 V559.7 H185.0 V565.8 H185.8 V569.1 H186.6 V580.2 H187.4 V585.3 H188.2 V587.7 H189.0 V592.7 H189.8 V595.3 H190.6 V598.0 H191.4 V600.2 H192.2 V600.4 H193.0 V603.3 H193.8 V603.8 H194.6 V604.5 H195.4 V604.6 H196.2 V605.6" stroke="#d3133e"/>
</g>
<rect x="139.8" y="627.60" width="7" height="7" fill="#fff" stroke="#8494ad" stroke-width="0.7"/>
<text x="149.70" y="633.89" font-size="7.8" fill="#231f20" stroke="#231f20" stroke-width="0.14">DMSO</text>
<rect x="139.8" y="639.10" width="7" height="7" fill="#fff" stroke="#3f63a0" stroke-width="0.7"/>
<text x="149.70" y="645.39" font-size="7.8" fill="#231f20" stroke="#231f20" stroke-width="0.14">dTAG 2d/w</text>
<rect x="139.8" y="649.70" width="7" height="7" fill="#fff" stroke="#d3133e" stroke-width="0.7"/>
<text x="149.70" y="655.99" font-size="7.8" fill="#231f20" stroke="#231f20" stroke-width="0.14">dTAG 5d/w</text>
</g>
<g id="panelH">
<text x="281.20" y="488.84" font-size="11" fill="#000" stroke="#000" stroke-width="0.084" font-weight="bold">H</text>
<text x="367.00" y="490.46" font-size="9.1" fill="#231f20" stroke="#231f20" stroke-width="0.14" text-anchor="middle">Gate: live single cells</text>
<rect x="311.1" y="496.0" width="111.90" height="110.20" fill="none" stroke="#111" stroke-width="1.15"/>
<line x1="311.10" y1="500.40" x2="313.30" y2="500.40" stroke="#111" stroke-width="0.5" />
<line x1="311.10" y1="521.45" x2="313.30" y2="521.45" stroke="#111" stroke-width="0.5" />
<line x1="311.10" y1="542.50" x2="313.30" y2="542.50" stroke="#111" stroke-width="0.5" />
<line x1="311.10" y1="563.55" x2="313.30" y2="563.55" stroke="#111" stroke-width="0.5" />
<line x1="311.10" y1="584.60" x2="313.30" y2="584.60" stroke="#111" stroke-width="0.5" />
<line x1="319.10" y1="606.20" x2="319.10" y2="604.20" stroke="#111" stroke-width="0.4" />
<line x1="326.78" y1="606.20" x2="326.78" y2="605.10" stroke="#111" stroke-width="0.4" />
<line x1="331.27" y1="606.20" x2="331.27" y2="605.10" stroke="#111" stroke-width="0.4" />
<line x1="334.45" y1="606.20" x2="334.45" y2="605.10" stroke="#111" stroke-width="0.4" />
<line x1="336.92" y1="606.20" x2="336.92" y2="605.10" stroke="#111" stroke-width="0.4" />
<line x1="338.94" y1="606.20" x2="338.94" y2="605.10" stroke="#111" stroke-width="0.4" />
<line x1="340.65" y1="606.20" x2="340.65" y2="605.10" stroke="#111" stroke-width="0.4" />
<line x1="342.13" y1="606.20" x2="342.13" y2="605.10" stroke="#111" stroke-width="0.4" />
<line x1="343.43" y1="606.20" x2="343.43" y2="605.10" stroke="#111" stroke-width="0.4" />
<line x1="344.60" y1="606.20" x2="344.60" y2="604.20" stroke="#111" stroke-width="0.4" />
<line x1="352.28" y1="606.20" x2="352.28" y2="605.10" stroke="#111" stroke-width="0.4" />
<line x1="356.77" y1="606.20" x2="356.77" y2="605.10" stroke="#111" stroke-width="0.4" />
<line x1="359.95" y1="606.20" x2="359.95" y2="605.10" stroke="#111" stroke-width="0.4" />
<line x1="362.42" y1="606.20" x2="362.42" y2="605.10" stroke="#111" stroke-width="0.4" />
<line x1="364.44" y1="606.20" x2="364.44" y2="605.10" stroke="#111" stroke-width="0.4" />
<line x1="366.15" y1="606.20" x2="366.15" y2="605.10" stroke="#111" stroke-width="0.4" />
<line x1="367.63" y1="606.20" x2="367.63" y2="605.10" stroke="#111" stroke-width="0.4" />
<line x1="368.93" y1="606.20" x2="368.93" y2="605.10" stroke="#111" stroke-width="0.4" />
<line x1="370.10" y1="606.20" x2="370.10" y2="604.20" stroke="#111" stroke-width="0.4" />
<line x1="377.78" y1="606.20" x2="377.78" y2="605.10" stroke="#111" stroke-width="0.4" />
<line x1="382.27" y1="606.20" x2="382.27" y2="605.10" stroke="#111" stroke-width="0.4" />
<line x1="385.45" y1="606.20" x2="385.45" y2="605.10" stroke="#111" stroke-width="0.4" />
<line x1="387.92" y1="606.20" x2="387.92" y2="605.10" stroke="#111" stroke-width="0.4" />
<line x1="389.94" y1="606.20" x2="389.94" y2="605.10" stroke="#111" stroke-width="0.4" />
<line x1="391.65" y1="606.20" x2="391.65" y2="605.10" stroke="#111" stroke-width="0.4" />
<line x1="393.13" y1="606.20" x2="393.13" y2="605.10" stroke="#111" stroke-width="0.4" />
<line x1="394.43" y1="606.20" x2="394.43" y2="605.10" stroke="#111" stroke-width="0.4" />
<line x1="395.60" y1="606.20" x2="395.60" y2="604.20" stroke="#111" stroke-width="0.4" />
<line x1="403.28" y1="606.20" x2="403.28" y2="605.10" stroke="#111" stroke-width="0.4" />
<line x1="407.77" y1="606.20" x2="407.77" y2="605.10" stroke="#111" stroke-width="0.4" />
<line x1="410.95" y1="606.20" x2="410.95" y2="605.10" stroke="#111" stroke-width="0.4" />
<line x1="413.42" y1="606.20" x2="413.42" y2="605.10" stroke="#111" stroke-width="0.4" />
<line x1="415.44" y1="606.20" x2="415.44" y2="605.10" stroke="#111" stroke-width="0.4" />
<line x1="417.15" y1="606.20" x2="417.15" y2="605.10" stroke="#111" stroke-width="0.4" />
<line x1="418.63" y1="606.20" x2="418.63" y2="605.10" stroke="#111" stroke-width="0.4" />
<line x1="419.93" y1="606.20" x2="419.93" y2="605.10" stroke="#111" stroke-width="0.4" />
<line x1="303.00" y1="612.80" x2="303.00" y2="499.50" stroke="#111" stroke-width="0.8" />
<path d="M301.1,501 L303,496.5 L304.9,501 Z" fill="#111"/>
<line x1="302.60" y1="612.80" x2="420.50" y2="612.80" stroke="#111" stroke-width="0.8" />
<path d="M419.0,610.9 L423.5,612.8 L419.0,614.6999999999999 Z" fill="#111"/>
<text transform="translate(297.47 553.50) rotate(-90) scale(0.7 1)" font-size="9.4" fill="#231f20" stroke="#231f20" stroke-width="0.3" text-anchor="middle">Cell counts</text>
<text transform="translate(363.00 621.87) scale(0.64 1)" font-size="9.4" fill="#231f20" stroke="#231f20" stroke-width="0.3" text-anchor="middle">CD11b</text>
<g clip-path="url(#clipboxH)" fill="none" stroke-width="0.7" stroke-linejoin="miter">
<path d="M312.0,605.6 L312.0,605.6 H312.8 V605.6 H313.6 V605.5 H314.4 V605.5 H315.2 V605.4 H316.0 V605.4 H316.8 V605.2 H317.6 V605.0 H318.4 V605.1 H319.2 V604.9 H320.0 V604.1 H320.8 V604.0 H321.6 V603.2 H322.4 V603.7 H323.2 V602.3 H324.0 V600.7 H324.8 V600.4 H325.6 V597.9 H326.4 V595.8 H327.2 V595.1 H328.0 V592.1 H328.8 V586.2 H329.6 V579.0 H330.4 V575.5 H331.2 V569.4 H332.0 V559.4 H332.8 V554.6 H333.6 V543.3 H334.4 V530.8 H335.2 V520.9 H336.0 V518.0 H336.8 V512.3 H337.6 V509.0 H338.4 V502.9 H339.2 V507.8 H340.0 V517.0 H340.8 V507.8 H341.6 V521.3 H342.4 V529.5 H343.2 V545.8 H344.0 V546.6 H344.8 V558.5 H345.6 V573.2 H346.4 V579.3 H347.2 V584.1 H348.0 V589.8 H348.8 V593.8 H349.6 V598.2 H350.4 V599.4 H351.2 V601.9 H352.0 V603.7 H352.8 V604.2 H353.6 V604.6 H354.4 V605.6" stroke="#46708e"/>
<path d="M314.0,605.6 L314.0,605.6 H314.8 V605.6 H315.6 V605.6 H316.4 V605.5 H317.2 V605.5 H318.0 V605.4 H318.8 V605.3 H319.6 V605.3 H320.4 V605.1 H321.2 V604.8 H322.0 V604.6 H322.8 V604.6 H323.6 V604.0 H324.4 V603.7 H325.2 V602.6 H326.0 V601.3 H326.8 V600.2 H327.6 V600.2 H328.4 V598.9 H329.2 V597.4 H330.0 V595.6 H330.8 V592.9 H331.6 V587.9 H332.4 V584.0 H333.2 V578.3 H334.0 V568.3 H334.8 V563.4 H335.6 V554.8 H336.4 V549.8 H337.2 V544.2 H338.0 V531.6 H338.8 V526.9 H339.6 V513.2 H340.4 V498.4 H341.2 V499.4 H342.0 V507.1 H342.8 V498.4 H343.6 V498.4 H344.4 V498.4 H345.2 V499.2 H346.0 V507.2 H346.8 V512.7 H347.6 V526.2 H348.4 V522.6 H349.2 V529.3 H350.0 V545.8 H350.8 V543.8 H351.6 V549.4 H352.4 V556.7 H353.2 V560.3 H354.0 V564.7 H354.8 V565.4 H355.6 V572.2 H356.4 V573.9 H357.2 V580.0 H358.0 V580.8 H358.8 V584.1 H359.6 V588.7 H360.4 V591.1 H361.2 V592.7 H362.0 V595.4 H362.8 V597.8 H363.6 V599.7 H364.4 V601.2 H365.2 V601.4 H366.0 V603.3 H366.8 V602.9 H367.6 V604.2 H368.4 V604.2 H369.2 V604.9 H370.0 V604.9 H370.8 V605.2 H371.6 V605.3 H372.4 V605.6" stroke="#1c4a86"/>
<path d="M321.6,605.6 L321.6,605.6 H322.4 V605.6 H323.2 V605.5 H324.0 V605.5 H324.8 V605.4 H325.6 V605.3 H326.4 V604.9 H327.2 V604.7 H328.0 V604.3 H328.8 V604.3 H329.6 V603.6 H330.4 V603.4 H331.2 V603.0 H332.0 V602.5 H332.8 V601.5 H333.6 V599.2 H334.4 V598.2 H335.2 V596.9 H336.0 V595.3 H336.8 V594.8 H337.6 V592.4 H338.4 V588.7 H339.2 V584.8 H340.0 V579.8 H340.8 V574.4 H341.6 V573.8 H342.4 V563.7 H343.2 V556.1 H344.0 V550.6 H344.8 V547.7 H345.6 V537.4 H346.4 V537.3 H347.2 V519.5 H348.0 V516.9 H348.8 V520.1 H349.6 V523.6 H350.4 V514.0 H351.2 V521.5 H352.0 V519.0 H352.8 V522.4 H353.6 V530.2 H354.4 V533.4 H355.2 V531.6 H356.0 V533.7 H356.8 V536.0 H357.6 V531.0 H358.4 V518.9 H359.2 V527.3 H360.0 V522.9 H360.8 V507.9 H361.6 V511.1 H362.4 V503.9 H363.2 V504.7 H364.0 V508.7 H364.8 V499.3 H365.6 V519.6 H366.4 V522.3 H367.2 V533.3 H368.0 V535.7 H368.8 V549.2 H369.6 V557.1 H370.4 V562.1 H371.2 V573.3 H372.0 V578.7 H372.8 V583.4 H373.6 V591.3 H374.4 V595.1 H375.2 V597.7 H376.0 V599.4 H376.8 V601.3 H377.6 V603.3 H378.4 V604.0 H379.2 V604.7 H380.0 V604.9 H380.8 V605.6" stroke="#d3133e"/>
</g>
<rect x="304.2" y="627.60" width="7" height="7" fill="#fff" stroke="#8494ad" stroke-width="0.7"/>
<text x="314.10" y="633.89" font-size="7.8" fill="#231f20" stroke="#231f20" stroke-width="0.14">DMSO</text>
<rect x="304.2" y="639.10" width="7" height="7" fill="#fff" stroke="#3f63a0" stroke-width="0.7"/>
<text x="314.10" y="645.39" font-size="7.8" fill="#231f20" stroke="#231f20" stroke-width="0.14">dTAG 2d/w</text>
<rect x="304.2" y="649.70" width="7" height="7" fill="#fff" stroke="#d3133e" stroke-width="0.7"/>
<text x="314.10" y="655.99" font-size="7.8" fill="#231f20" stroke="#231f20" stroke-width="0.14">dTAG 5d/w</text>
</g>
</svg>
</body>
</html>
